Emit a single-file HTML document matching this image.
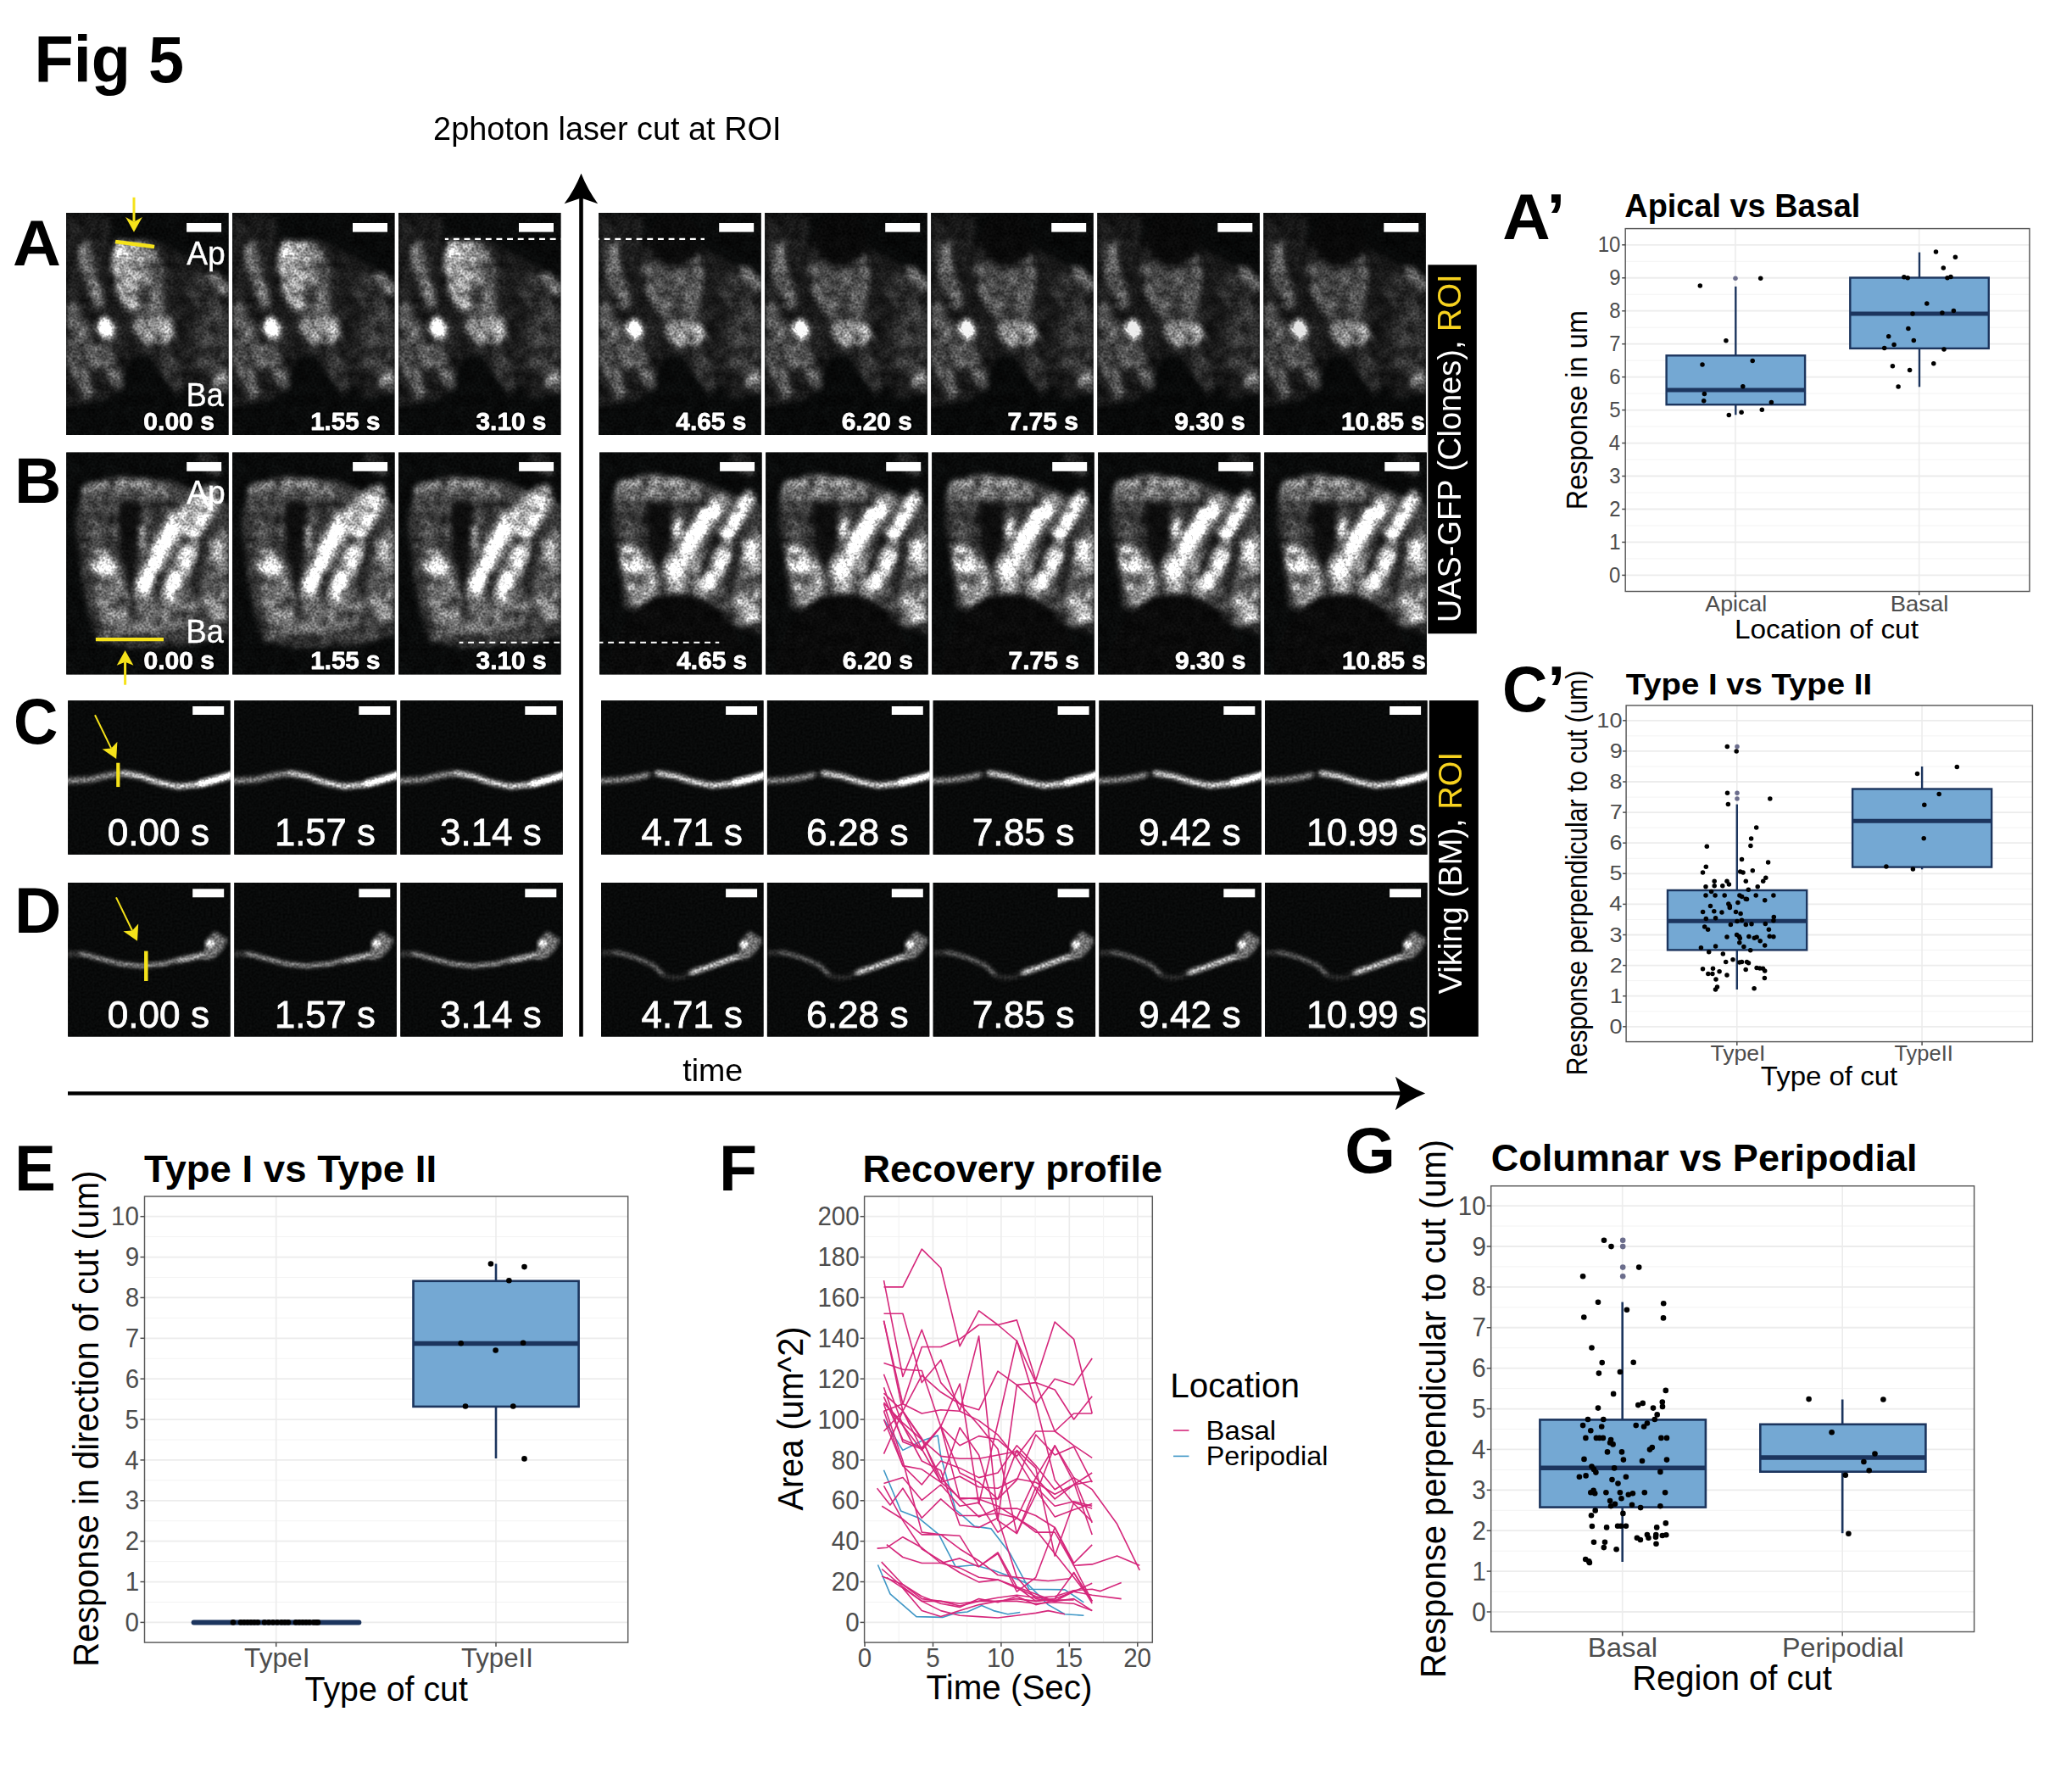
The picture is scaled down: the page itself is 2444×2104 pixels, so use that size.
<!DOCTYPE html>
<html><head><meta charset="utf-8"><title>Fig 5</title>
<style>
html,body{margin:0;padding:0;background:#fff;}
body{width:2444px;height:2104px;overflow:hidden;font-family:"Liberation Sans",sans-serif;}
svg{display:block;position:absolute;left:0;top:0;}
text{font-family:"Liberation Sans",sans-serif;white-space:pre;}
.ov{opacity:0.9999;}
</style></head><body>
<svg width="2444" height="2104" viewBox="0 0 2444 2104">
<defs>
<filter id="fz" x="-5%" y="-5%" width="110%" height="110%" color-interpolation-filters="sRGB">
<feGaussianBlur in="SourceGraphic" stdDeviation="3.1" result="b"/>
<feTurbulence type="fractalNoise" baseFrequency="0.07" numOctaves="2" seed="3" result="c0"/>
<feColorMatrix in="c0" type="matrix" values="1.6 0 0 0 -0.3  1.6 0 0 0 -0.3  1.6 0 0 0 -0.3  0 0 0 0 1" result="c"/>
<feComposite in="b" in2="c" operator="arithmetic" k1="1.0" k2="0.5" k3="0" k4="0" result="b2"/>
<feTurbulence type="fractalNoise" baseFrequency="0.38" numOctaves="1" seed="7" result="n"/>
<feColorMatrix in="n" type="matrix" values="1.5 0 0 0 -0.25  1.5 0 0 0 -0.25  1.5 0 0 0 -0.25  0 0 0 0 1" result="ng"/>
<feComposite in="b2" in2="ng" operator="arithmetic" k1="1.1" k2="0.75" k3="0.03" k4="-0.006"/>
</filter>
<filter id="fl" x="-5%" y="-5%" width="110%" height="110%" color-interpolation-filters="sRGB">
<feGaussianBlur in="SourceGraphic" stdDeviation="1.9" result="b"/>
<feTurbulence type="fractalNoise" baseFrequency="0.38" numOctaves="1" seed="11" result="n"/>
<feColorMatrix in="n" type="matrix" values="1.5 0 0 0 -0.25  1.5 0 0 0 -0.25  1.5 0 0 0 -0.25  0 0 0 0 1" result="ng"/>
<feComposite in="b" in2="ng" operator="arithmetic" k1="1.0" k2="0.8" k3="0.022" k4="-0.004"/>
</filter>
<clipPath id="cA"><rect x="0" y="0" width="191.5" height="262"/></clipPath>
<clipPath id="cC"><rect x="0" y="0" width="191.5" height="181.6"/></clipPath>
<g id="Apre"><rect x="-10" y="-10" width="211.5" height="282" fill="#050606"/><polygon points="0.0,30.4 102.2,31.3 192.0,78.8 192.0,212.9 154.4,218.7 128.3,168.0 79.1,168.0 53.0,217.2 0.0,230.2" fill="#141414"/><polygon points="0.0,1.4 53.0,2.9 50.1,30.4 0.0,31.9" fill="#121212"/><polygon points="0.0,107.2 12.5,105.7 26.9,139.0 42.0,179.6 33.3,188.8 15.3,156.4 0.0,130.3" fill="#464646"/><polygon points="0.0,146.2 9.6,151.2 26.9,191.1 35.6,214.3 24.0,220.7 9.6,194.0 0.0,174.3" fill="#404040"/><polygon points="35.6,156.4 48.7,152.0 61.7,179.6 68.1,205.6 57.3,210.0 45.8,185.3" fill="#3d3d3d"/><ellipse cx="161.6" cy="92.7" rx="18.0" ry="26.1" fill="#202020" transform="rotate(-25 161.6 92.7)"/><polygon points="150.0,139.0 165.9,107.7 192.0,113.5 192.0,191.1 171.7,196.9 154.4,179.6" fill="#282828"/><polygon points="170.3,203.3 183.3,186.5 192.0,183.0 192.0,209.1 177.5,210.8" fill="#5a5a5a"/><polygon points="93.5,154.9 119.6,154.9 142.8,196.9 131.2,215.8 108.0,182.5" fill="#242424"/><polygon points="13.9,36.2 26.9,34.2 35.6,66.6 47.2,110.0 35.6,113.5 21.1,81.1 12.5,52.1" fill="#494949"/><polygon points="165.9,73.0 177.5,70.1 192.0,87.5 192.0,99.0 177.5,90.4" fill="#565656"/><ellipse cx="46.6" cy="137.6" rx="11.6" ry="18.0" fill="#494949" transform="rotate(-15 46.6 137.6)"/><ellipse cx="46.6" cy="136.7" rx="7.0" ry="13.3" fill="#fefefe" transform="rotate(-12 46.6 136.7)"/><polygon points="87.7,34.8 104.5,37.6 115.3,66.6 113.8,92.7 117.3,121.6 87.7,121.6 79.1,115.8 87.7,89.8" fill="#4c4c4c"/><polygon points="57.1,33.6 87.7,34.8 89.2,69.5 85.4,89.8 79.1,115.8 68.1,110.0 58.2,84.0 53.6,63.7" fill="#818181"/><ellipse cx="91.2" cy="96.1" rx="7.8" ry="12.2" fill="#282828"/><polygon points="82.0,125.1 96.4,119.3 122.5,125.1 130.6,139.0 119.6,154.1 93.5,154.1 79.1,139.0" fill="#717171"/></g>
<g id="Apost"><rect x="-10" y="-10" width="211.5" height="282" fill="#050606"/><polygon points="0.0,30.4 102.2,31.3 192.0,78.8 192.0,212.9 154.4,218.7 128.3,168.0 79.1,168.0 53.0,217.2 0.0,230.2" fill="#141414"/><polygon points="0.0,1.4 53.0,2.9 50.1,30.4 0.0,31.9" fill="#121212"/><polygon points="0.0,107.2 12.5,105.7 26.9,139.0 42.0,179.6 33.3,188.8 15.3,156.4 0.0,130.3" fill="#464646"/><polygon points="0.0,146.2 9.6,151.2 26.9,191.1 35.6,214.3 24.0,220.7 9.6,194.0 0.0,174.3" fill="#404040"/><polygon points="35.6,156.4 48.7,152.0 61.7,179.6 68.1,205.6 57.3,210.0 45.8,185.3" fill="#3d3d3d"/><ellipse cx="161.6" cy="92.7" rx="18.0" ry="26.1" fill="#202020" transform="rotate(-25 161.6 92.7)"/><polygon points="150.0,139.0 165.9,107.7 192.0,113.5 192.0,191.1 171.7,196.9 154.4,179.6" fill="#282828"/><polygon points="170.3,203.3 183.3,186.5 192.0,183.0 192.0,209.1 177.5,210.8" fill="#5a5a5a"/><polygon points="93.5,154.9 119.6,154.9 142.8,196.9 131.2,215.8 108.0,182.5" fill="#242424"/><polygon points="9.6,34.8 22.6,33.3 26.1,66.6 37.6,110.0 26.1,113.5 11.6,81.1 5.8,52.1" fill="#4c4c4c"/><polygon points="164.5,64.3 176.1,62.6 192.0,81.1 192.0,93.3 173.2,81.7" fill="#565656"/><ellipse cx="42.3" cy="139.9" rx="11.6" ry="18.0" fill="#494949" transform="rotate(-15 42.3 139.9)"/><ellipse cx="42.3" cy="139.0" rx="7.0" ry="13.3" fill="#fefefe" transform="rotate(-12 42.3 139.0)"/><polygon points="50.1,59.4 68.9,56.5 95.0,65.2 118.2,47.8 124.5,60.8 121.6,89.8 116.7,126.0 80.5,128.0 63.1,110.0 51.5,81.1" fill="#353535"/><polygon points="96.4,68.1 117.6,50.7 123.4,62.3 119.9,89.8 115.3,124.5 105.1,124.5 102.2,95.6" fill="#464646"/><polygon points="51.5,63.7 66.0,62.3 76.2,89.8 80.5,115.8 66.0,110.0 55.9,86.9" fill="#454545"/><ellipse cx="89.2" cy="31.3" rx="31.3" ry="30.7" fill="#060606"/><polygon points="80.5,130.9 95.0,125.1 121.1,130.9 127.4,144.8 115.3,157.0 92.1,157.0 78.5,144.8" fill="#747474"/></g>
<g id="Bpre"><rect x="-10" y="-10" width="211.5" height="282" fill="#050606"/><polygon points="12.0,80.0 20.0,40.0 70.0,28.0 125.0,34.0 191.0,62.0 191.0,215.0 150.0,226.0 80.0,230.0 36.0,222.0 20.0,160.0" fill="#2c2c2c"/><polygon points="155.0,3.0 178.0,3.0 182.0,30.0 163.0,24.0" fill="#1e1e1e"/><polygon points="16.0,56.0 28.0,36.0 66.0,29.0 110.0,35.0 126.0,47.0 116.0,58.0 80.0,55.0 62.0,66.0 64.0,108.0 30.0,114.0 18.0,80.0" fill="#323232"/><polyline points="24.0,44.0 60.0,36.0 100.0,40.0 120.0,48.0" fill="none" stroke="#5c5c5c" stroke-width="11" stroke-linecap="round" stroke-linejoin="round"/><polygon points="66.0,56.0 88.0,62.0 86.0,108.0 80.0,150.0 77.0,190.0 73.0,150.0 62.0,114.0 62.0,70.0" fill="#090909"/><polygon points="28.0,116.0 46.0,116.0 62.0,142.0 78.0,178.0 76.0,212.0 46.0,218.0 36.0,178.0 38.0,150.0" fill="#515151"/><ellipse cx="44" cy="133" rx="13" ry="19" fill="#a5a5a5" transform="rotate(-20 44 133)"/><polygon points="78.0,166.0 120.0,164.0 150.0,172.0 158.0,196.0 120.0,214.0 80.0,214.0" fill="#4c4c4c"/><polyline points="90.0,160.0 128.0,84.0 170.0,50.0" fill="none" stroke="#737373" stroke-width="24" stroke-linecap="round" stroke-linejoin="round"/><polyline points="122.0,166.0 146.0,116.0" fill="none" stroke="#828282" stroke-width="20" stroke-linecap="round" stroke-linejoin="round"/><polyline points="150.0,96.0 174.0,56.0" fill="none" stroke="#737373" stroke-width="18" stroke-linecap="round" stroke-linejoin="round"/><polyline points="92.0,156.0 110.0,116.0 130.0,82.0" fill="none" stroke="#fdfdfd" stroke-width="13" stroke-linecap="round" stroke-linejoin="round"/><polyline points="130.0,82.0 150.0,62.0 168.0,50.0" fill="none" stroke="#999999" stroke-width="9" stroke-linecap="round" stroke-linejoin="round"/><polyline points="114.0,138.0 134.0,100.0 154.0,68.0" fill="none" stroke="#a5a5a5" stroke-width="5" stroke-linecap="round" stroke-linejoin="round"/><polyline points="123.0,163.0 134.0,140.0 145.0,118.0" fill="none" stroke="#fefefe" stroke-width="10" stroke-linecap="round" stroke-linejoin="round"/><polyline points="152.0,93.0 162.0,76.0 173.0,57.0" fill="none" stroke="#c0c0c0" stroke-width="9" stroke-linecap="round" stroke-linejoin="round"/><polyline points="89.0,90.0 92.0,120.0" fill="none" stroke="#929292" stroke-width="6" stroke-linecap="round" stroke-linejoin="round"/><polygon points="168.0,108.0 191.0,92.0 191.0,142.0 172.0,148.0" fill="#6a6a6a"/><polygon points="158.0,160.0 191.0,154.0 191.0,196.0 168.0,200.0" fill="#606060"/><polygon points="158.0,196.0 191.0,196.0 191.0,212.0 164.0,214.0" fill="#353535"/><polyline points="76.0,150.0 78.0,196.0" fill="none" stroke="#070707" stroke-width="3.5" stroke-linecap="round" stroke-linejoin="round"/><polyline points="108.0,150.0 128.0,112.0" fill="none" stroke="#171717" stroke-width="4" stroke-linecap="round" stroke-linejoin="round"/><polyline points="160.0,112.0 150.0,162.0" fill="none" stroke="#131313" stroke-width="6" stroke-linecap="round" stroke-linejoin="round"/></g>
<g id="Bpost"><rect x="-10" y="-10" width="211.5" height="282" fill="#050606"/><polygon points="16.0,80.0 22.0,38.0 64.0,26.0 118.0,34.0 191.0,64.0 191.0,214.0 152.0,202.0 80.0,198.0 30.0,184.0" fill="#2c2c2c"/><polygon points="155.0,3.0 178.0,3.0 182.0,30.0 163.0,24.0" fill="#1e1e1e"/><polygon points="16.0,50.0 62.0,64.0 58.0,112.0 28.0,114.0 18.0,80.0" fill="#2e2e2e"/><polygon points="16.0,52.0 28.0,32.0 66.0,26.0 106.0,32.0 124.0,44.0 114.0,58.0 78.0,54.0 62.0,64.0" fill="#4c4c4c"/><polyline points="24.0,40.0 60.0,33.0 100.0,37.0 118.0,46.0" fill="none" stroke="#646464" stroke-width="9" stroke-linecap="round" stroke-linejoin="round"/><polygon points="54.0,56.0 84.0,62.0 86.0,106.0 78.0,130.0 72.0,146.0 67.0,130.0 56.0,106.0" fill="#090909"/><polygon points="24.0,110.0 46.0,113.0 60.0,128.0 68.0,148.0 68.0,178.0 42.0,180.0 30.0,154.0" fill="#6b6b6b"/><ellipse cx="38" cy="126" rx="12" ry="17" fill="#adadad" transform="rotate(-25 38 126)"/><polygon points="76.0,128.0 92.0,108.0 118.0,114.0 120.0,178.0 74.0,178.0 72.0,154.0" fill="#676767"/><polyline points="84.0,150.0 120.0,86.0 142.0,62.0" fill="none" stroke="#737373" stroke-width="24" stroke-linecap="round" stroke-linejoin="round"/><polyline points="126.0,160.0 146.0,120.0" fill="none" stroke="#828282" stroke-width="20" stroke-linecap="round" stroke-linejoin="round"/><polyline points="148.0,100.0 176.0,54.0" fill="none" stroke="#737373" stroke-width="18" stroke-linecap="round" stroke-linejoin="round"/><polyline points="88.0,142.0 106.0,108.0 124.0,78.0 136.0,66.0" fill="none" stroke="#fdfdfd" stroke-width="14" stroke-linecap="round" stroke-linejoin="round"/><polyline points="128.0,156.0 138.0,136.0 146.0,122.0" fill="none" stroke="#fefefe" stroke-width="11" stroke-linecap="round" stroke-linejoin="round"/><polyline points="152.0,96.0 164.0,74.0 176.0,54.0" fill="none" stroke="#e6e6e6" stroke-width="10" stroke-linecap="round" stroke-linejoin="round"/><ellipse cx="92" cy="92" rx="6" ry="13" fill="#a5a5a5"/><polygon points="168.0,108.0 191.0,96.0 191.0,142.0 170.0,146.0" fill="#929292"/><polygon points="158.0,162.0 191.0,156.0 191.0,200.0 164.0,204.0" fill="#797979"/><polyline points="76.0,148.0 74.0,180.0" fill="none" stroke="#070707" stroke-width="3" stroke-linecap="round" stroke-linejoin="round"/><polyline points="140.0,100.0 120.0,146.0" fill="none" stroke="#0a0a0a" stroke-width="7" stroke-linecap="round" stroke-linejoin="round"/><polyline points="164.0,112.0 152.0,160.0" fill="none" stroke="#131313" stroke-width="6" stroke-linecap="round" stroke-linejoin="round"/><ellipse cx="92" cy="266" rx="82" ry="100" fill="#060606"/></g>
<g id="Cpre"><rect x="-10" y="-10" width="211.5" height="201" fill="#050606"/><polyline points="-4.2,95.0 24.8,93.5 47.9,88.0 65.9,85.7 85.6,89.2 105.8,96.4 129.0,101.4 152.2,99.3 175.4,93.5 192.7,88.6" fill="none" stroke="#454545" stroke-width="8.7" stroke-linecap="round" stroke-linejoin="round" opacity="0.7"/><polyline points="-4.2,95.0 24.8,93.5 47.9,88.0 65.9,85.7" fill="none" stroke="#737373" stroke-width="4.1" stroke-linecap="round" stroke-linejoin="round"/><polyline points="65.9,85.7 85.6,89.2 105.8,96.4 129.0,101.4 152.2,99.3 175.4,93.5 192.7,88.6" fill="none" stroke="#b8b8b8" stroke-width="4.6" stroke-linecap="round" stroke-linejoin="round"/><polyline points="156.5,97.9 175.4,93.0 192.7,88.0" fill="none" stroke="#fefefe" stroke-width="7.0" stroke-linecap="round" stroke-linejoin="round"/></g>
<g id="Cpost"><rect x="-10" y="-10" width="211.5" height="201" fill="#050606"/><polyline points="-4.1,95.0 20.9,93.8 41.1,90.9 55.0,87.5" fill="none" stroke="#454545" stroke-width="8.1" stroke-linecap="round" stroke-linejoin="round" opacity="0.7"/><polyline points="66.0,85.7 87.5,89.2 107.7,95.6 130.9,100.2 154.1,97.9 177.2,92.7 194.6,88.0" fill="none" stroke="#454545" stroke-width="8.7" stroke-linecap="round" stroke-linejoin="round" opacity="0.7"/><polyline points="-4.1,95.0 20.9,93.8 41.1,90.9 54.4,87.7" fill="none" stroke="#737373" stroke-width="4.1" stroke-linecap="round" stroke-linejoin="round"/><polyline points="66.6,85.7 87.5,89.2 107.7,95.6 130.9,100.2 154.1,97.9 177.2,92.7 194.6,88.0" fill="none" stroke="#b8b8b8" stroke-width="4.6" stroke-linecap="round" stroke-linejoin="round"/><polyline points="158.4,96.4 177.2,92.1 194.6,87.5" fill="none" stroke="#fefefe" stroke-width="7.0" stroke-linecap="round" stroke-linejoin="round"/></g>
<g id="Dpre"><rect x="-10" y="-10" width="211.5" height="201" fill="#050606"/><polyline points="1.6,84.3 19.0,83.7 39.2,90.1 62.4,95.9 85.6,98.2 111.6,95.9 134.8,90.1 155.1,85.7 167.2,82.2" fill="none" stroke="#393939" stroke-width="6.4" stroke-linecap="round" stroke-linejoin="round" opacity="0.7"/><polyline points="14.6,83.7 39.2,90.1 62.4,95.9 85.6,98.2 111.6,95.9 134.8,90.1 155.1,85.7 167.2,82.2" fill="none" stroke="#9d9d9d" stroke-width="2.6" stroke-linecap="round" stroke-linejoin="round"/><polyline points="131.9,91.5 152.2,87.2 166.7,83.4" fill="none" stroke="#929292" stroke-width="5.5" stroke-linecap="round" stroke-linejoin="round"/><polygon points="163.2,68.9 173.0,57.3 188.4,67.2 181.7,79.9 171.9,89.2 159.4,91.5" fill="#585858"/><ellipse cx="167.2" cy="71.2" rx="4.3" ry="3.8" fill="#e6e6e6"/></g>
<g id="Dpost"><rect x="-10" y="-10" width="211.5" height="201" fill="#050606"/><polyline points="3.5,82.8 20.9,82.2 41.1,88.6 61.4,97.3 73.6,108.9" fill="none" stroke="#353535" stroke-width="5.8" stroke-linecap="round" stroke-linejoin="round" opacity="0.7"/><polyline points="15.1,82.2 41.1,88.6 61.4,97.3 73.0,108.3" fill="none" stroke="#6b6b6b" stroke-width="2.3" stroke-linecap="round" stroke-linejoin="round"/><polyline points="73.6,109.5 84.6,112.4 96.1,111.2 106.3,106.6" fill="none" stroke="#262626" stroke-width="4.1" stroke-linecap="round" stroke-linejoin="round"/><polyline points="106.3,106.0 128.0,98.8 148.3,91.5 165.7,85.7 172.0,79.9" fill="none" stroke="#454545" stroke-width="7.0" stroke-linecap="round" stroke-linejoin="round" opacity="0.7"/><polyline points="107.2,106.0 128.0,98.8 148.3,91.5 165.7,85.7 172.0,79.9" fill="none" stroke="#b8b8b8" stroke-width="4.6" stroke-linecap="round" stroke-linejoin="round"/><polygon points="165.1,68.9 174.9,57.3 190.3,67.2 183.6,79.9 173.8,89.2 161.3,91.5" fill="#585858"/><ellipse cx="168.0" cy="72.7" rx="4.3" ry="3.8" fill="#e6e6e6"/></g>
</defs>
<g transform="translate(78.1,251)" clip-path="url(#cA)"><rect x="0" y="0" width="191.5" height="262" fill="#050606"/><use href="#Apre" filter="url(#fz)"/></g>
<g transform="translate(274,251)" clip-path="url(#cA)"><rect x="0" y="0" width="191.5" height="262" fill="#050606"/><use href="#Apre" filter="url(#fz)"/></g>
<g transform="translate(470,251)" clip-path="url(#cA)"><rect x="0" y="0" width="191.5" height="262" fill="#050606"/><use href="#Apre" filter="url(#fz)"/></g>
<g transform="translate(706.2,251)" clip-path="url(#cA)"><rect x="0" y="0" width="191.5" height="262" fill="#050606"/><use href="#Apost" filter="url(#fz)"/></g>
<g transform="translate(902.2,251)" clip-path="url(#cA)"><rect x="0" y="0" width="191.5" height="262" fill="#050606"/><use href="#Apost" filter="url(#fz)" opacity="0.98"/></g>
<g transform="translate(1098.2,251)" clip-path="url(#cA)"><rect x="0" y="0" width="191.5" height="262" fill="#050606"/><use href="#Apost" filter="url(#fz)" opacity="0.96"/></g>
<g transform="translate(1294.3,251)" clip-path="url(#cA)"><rect x="0" y="0" width="191.5" height="262" fill="#050606"/><use href="#Apost" filter="url(#fz)" opacity="0.93"/></g>
<g transform="translate(1490.3,251)" clip-path="url(#cA)"><rect x="0" y="0" width="191.5" height="262" fill="#050606"/><use href="#Apost" filter="url(#fz)" opacity="0.9"/></g>
<g transform="translate(78.2,533.5)" clip-path="url(#cA)"><rect x="0" y="0" width="191.5" height="262" fill="#050606"/><use href="#Bpre" filter="url(#fz)"/></g>
<g transform="translate(274.1,533.5)" clip-path="url(#cA)"><rect x="0" y="0" width="191.5" height="262" fill="#050606"/><use href="#Bpre" filter="url(#fz)"/></g>
<g transform="translate(470.1,533.5)" clip-path="url(#cA)"><rect x="0" y="0" width="191.5" height="262" fill="#050606"/><use href="#Bpre" filter="url(#fz)"/></g>
<g transform="translate(707.1,533.5)" clip-path="url(#cA)"><rect x="0" y="0" width="191.5" height="262" fill="#050606"/><use href="#Bpost" filter="url(#fz)"/></g>
<g transform="translate(903.2,533.5)" clip-path="url(#cA)"><rect x="0" y="0" width="191.5" height="262" fill="#050606"/><use href="#Bpost" filter="url(#fz)"/></g>
<g transform="translate(1099.2,533.5)" clip-path="url(#cA)"><rect x="0" y="0" width="191.5" height="262" fill="#050606"/><use href="#Bpost" filter="url(#fz)"/></g>
<g transform="translate(1295.2,533.5)" clip-path="url(#cA)"><rect x="0" y="0" width="191.5" height="262" fill="#050606"/><use href="#Bpost" filter="url(#fz)"/></g>
<g transform="translate(1491.3,533.5)" clip-path="url(#cA)"><rect x="0" y="0" width="191.5" height="262" fill="#050606"/><use href="#Bpost" filter="url(#fz)"/></g>
<g transform="translate(80.15,826.2)" clip-path="url(#cC)"><rect x="0" y="0" width="191.5" height="262" fill="#050606"/><use href="#Cpre" filter="url(#fl)"/></g>
<g transform="translate(276.3,826.2)" clip-path="url(#cC)"><rect x="0" y="0" width="191.5" height="262" fill="#050606"/><use href="#Cpre" filter="url(#fl)"/></g>
<g transform="translate(472.3,826.2)" clip-path="url(#cC)"><rect x="0" y="0" width="191.5" height="262" fill="#050606"/><use href="#Cpre" filter="url(#fl)"/></g>
<g transform="translate(709.1,826.2)" clip-path="url(#cC)"><rect x="0" y="0" width="191.5" height="262" fill="#050606"/><use href="#Cpost" filter="url(#fl)"/></g>
<g transform="translate(904.85,826.2)" clip-path="url(#cC)"><rect x="0" y="0" width="191.5" height="262" fill="#050606"/><use href="#Cpost" filter="url(#fl)"/></g>
<g transform="translate(1100.6,826.2)" clip-path="url(#cC)"><rect x="0" y="0" width="191.5" height="262" fill="#050606"/><use href="#Cpost" filter="url(#fl)"/></g>
<g transform="translate(1296.35,826.2)" clip-path="url(#cC)"><rect x="0" y="0" width="191.5" height="262" fill="#050606"/><use href="#Cpost" filter="url(#fl)"/></g>
<g transform="translate(1492.1,826.2)" clip-path="url(#cC)"><rect x="0" y="0" width="191.5" height="262" fill="#050606"/><use href="#Cpost" filter="url(#fl)"/></g>
<g transform="translate(80.15,1041)" clip-path="url(#cC)"><rect x="0" y="0" width="191.5" height="262" fill="#050606"/><use href="#Dpre" filter="url(#fl)"/></g>
<g transform="translate(276.3,1041)" clip-path="url(#cC)"><rect x="0" y="0" width="191.5" height="262" fill="#050606"/><use href="#Dpre" filter="url(#fl)"/></g>
<g transform="translate(472.3,1041)" clip-path="url(#cC)"><rect x="0" y="0" width="191.5" height="262" fill="#050606"/><use href="#Dpre" filter="url(#fl)"/></g>
<g transform="translate(709.1,1041)" clip-path="url(#cC)"><rect x="0" y="0" width="191.5" height="262" fill="#050606"/><use href="#Dpost" filter="url(#fl)"/></g>
<g transform="translate(904.85,1041)" clip-path="url(#cC)"><rect x="0" y="0" width="191.5" height="262" fill="#050606"/><use href="#Dpost" filter="url(#fl)"/></g>
<g transform="translate(1100.6,1041)" clip-path="url(#cC)"><rect x="0" y="0" width="191.5" height="262" fill="#050606"/><use href="#Dpost" filter="url(#fl)"/></g>
<g transform="translate(1296.35,1041)" clip-path="url(#cC)"><rect x="0" y="0" width="191.5" height="262" fill="#050606"/><use href="#Dpost" filter="url(#fl)"/></g>
<g transform="translate(1492.1,1041)" clip-path="url(#cC)"><rect x="0" y="0" width="191.5" height="262" fill="#050606"/><use href="#Dpost" filter="url(#fl)"/></g>
<g class="ov" opacity="0.9999">
<text x="40.61" y="97.00" font-size="78.0" font-weight="bold" fill="#000" textLength="176.47" lengthAdjust="spacingAndGlyphs" >Fig 5</text>
<text x="511.11" y="165.00" font-size="38.27" fill="#000" textLength="410.35" lengthAdjust="spacingAndGlyphs" >2photon laser cut at ROI</text>
<text x="15.11" y="312.50" font-size="76.6" font-weight="bold" fill="#000" textLength="56.96" lengthAdjust="spacingAndGlyphs" >A</text>
<text x="16.94" y="593.00" font-size="76.6" font-weight="bold" fill="#000" textLength="55.32" lengthAdjust="spacingAndGlyphs" >B</text>
<text x="16.02" y="877.00" font-size="76.6" font-weight="bold" fill="#000" textLength="52.45" lengthAdjust="spacingAndGlyphs" >C</text>
<text x="16.94" y="1099.70" font-size="76.6" font-weight="bold" fill="#000" textLength="55.32" lengthAdjust="spacingAndGlyphs" >D</text>
<text x="17.20" y="1404.40" font-size="76.6" font-weight="bold" fill="#000" textLength="48.54" lengthAdjust="spacingAndGlyphs" >E</text>
<text x="848.16" y="1404.40" font-size="76.6" font-weight="bold" fill="#000" textLength="44.76" lengthAdjust="spacingAndGlyphs" >F</text>
<text x="1586.15" y="1382.50" font-size="76.6" font-weight="bold" fill="#000" textLength="59.69" lengthAdjust="spacingAndGlyphs" >G</text>
<text x="1772.33" y="281.70" font-size="76.6" font-weight="bold" fill="#000" textLength="73.77" lengthAdjust="spacingAndGlyphs" >A’</text>
<text x="1772.06" y="838.60" font-size="76.6" font-weight="bold" fill="#000" textLength="74.07" lengthAdjust="spacingAndGlyphs" >C’</text>
<rect x="683.2" y="225" width="4.6" height="997.6" fill="#000"/>
<path d="M685.5 204.5 Q693 223.5 705.2 240.2 L685.5 233.4 L665.6 240.2 Q678 223.5 685.5 204.5 Z" fill="#000"/>
<rect x="80" y="1287.3" width="1576" height="4.4" fill="#000"/>
<path d="M1681.2 1289.5 Q1662.5 1282 1645.9 1269.8 L1652.1 1289.5 L1645.9 1309.2 Q1662.5 1297 1681.2 1289.5 Z" fill="#000"/>
<text x="805.24" y="1274.80" font-size="37.44" fill="#000" textLength="71.02" lengthAdjust="spacingAndGlyphs" >time</text>
<rect x="1684.3" y="312.3" width="57.5" height="435" fill="#000"/>
<rect x="1685.8" y="826.1" width="58" height="396.5" fill="#000"/>
<g transform="translate(1723.3,731.4) rotate(-90)"><text x="-2.92" y="0" font-size="38.480000000000004" fill="#fff" textLength="343.30" lengthAdjust="spacingAndGlyphs">UAS-GFP (Clones), </text><text x="340.37" y="0" font-size="38.480000000000004" fill="#f7d21f" textLength="67.52" lengthAdjust="spacingAndGlyphs">ROI</text></g>
<g transform="translate(1724.4,1172.3) rotate(-90)"><text x="-0.15" y="0" font-size="38.480000000000004" fill="#fff" textLength="217.64" lengthAdjust="spacingAndGlyphs">Viking (BM), </text><text x="217.49" y="0" font-size="38.480000000000004" fill="#f7d21f" textLength="67.82" lengthAdjust="spacingAndGlyphs">ROI</text></g>
<rect x="220.1" y="263" width="41" height="10.6" fill="#fff"/>
<rect x="416.0" y="263" width="41" height="10.6" fill="#fff"/>
<rect x="612.0" y="263" width="41" height="10.6" fill="#fff"/>
<rect x="848.2" y="263" width="41" height="10.6" fill="#fff"/>
<rect x="1044.2" y="263" width="41" height="10.6" fill="#fff"/>
<rect x="1240.2" y="263" width="41" height="10.6" fill="#fff"/>
<rect x="1436.3" y="263" width="41" height="10.6" fill="#fff"/>
<rect x="1632.3" y="263" width="41" height="10.6" fill="#fff"/>
<rect x="220.2" y="545" width="41" height="10.7" fill="#fff"/>
<rect x="416.1" y="545" width="41" height="10.7" fill="#fff"/>
<rect x="612.1" y="545" width="41" height="10.7" fill="#fff"/>
<rect x="849.1" y="545" width="41" height="10.7" fill="#fff"/>
<rect x="1045.2" y="545" width="41" height="10.7" fill="#fff"/>
<rect x="1241.2" y="545" width="41" height="10.7" fill="#fff"/>
<rect x="1437.2" y="545" width="41" height="10.7" fill="#fff"/>
<rect x="1633.3" y="545" width="41" height="10.7" fill="#fff"/>
<rect x="227.2" y="833" width="37" height="10" fill="#fff"/>
<rect x="423.3" y="833" width="37" height="10" fill="#fff"/>
<rect x="619.3" y="833" width="37" height="10" fill="#fff"/>
<rect x="856.1" y="833" width="37" height="10" fill="#fff"/>
<rect x="1051.8" y="833" width="37" height="10" fill="#fff"/>
<rect x="1247.6" y="833" width="37" height="10" fill="#fff"/>
<rect x="1443.3" y="833" width="37" height="10" fill="#fff"/>
<rect x="1639.1" y="833" width="37" height="10" fill="#fff"/>
<rect x="227.2" y="1048.3" width="37" height="10" fill="#fff"/>
<rect x="423.3" y="1048.3" width="37" height="10" fill="#fff"/>
<rect x="619.3" y="1048.3" width="37" height="10" fill="#fff"/>
<rect x="856.1" y="1048.3" width="37" height="10" fill="#fff"/>
<rect x="1051.8" y="1048.3" width="37" height="10" fill="#fff"/>
<rect x="1247.6" y="1048.3" width="37" height="10" fill="#fff"/>
<rect x="1443.3" y="1048.3" width="37" height="10" fill="#fff"/>
<rect x="1639.1" y="1048.3" width="37" height="10" fill="#fff"/>
<text x="168.92" y="506.50" font-size="28.6" font-weight="bold" fill="#000" textLength="84.41" lengthAdjust="spacingAndGlyphs" stroke="#000" stroke-width="4.5" stroke-linejoin="round" opacity="0.5">0.00 s</text>
<text x="169.33" y="506.50" font-size="28.6" font-weight="bold" fill="#fff" textLength="83.58" lengthAdjust="spacingAndGlyphs" stroke="#fff" stroke-width="0.8" stroke-linejoin="round">0.00 s</text>
<text x="365.75" y="506.50" font-size="28.6" font-weight="bold" fill="#000" textLength="83.06" lengthAdjust="spacingAndGlyphs" stroke="#000" stroke-width="4.5" stroke-linejoin="round" opacity="0.5">1.55 s</text>
<text x="366.17" y="506.50" font-size="28.6" font-weight="bold" fill="#fff" textLength="82.22" lengthAdjust="spacingAndGlyphs" stroke="#fff" stroke-width="0.8" stroke-linejoin="round">1.55 s</text>
<text x="561.14" y="506.50" font-size="28.6" font-weight="bold" fill="#000" textLength="83.67" lengthAdjust="spacingAndGlyphs" stroke="#000" stroke-width="4.5" stroke-linejoin="round" opacity="0.5">3.10 s</text>
<text x="561.54" y="506.50" font-size="28.6" font-weight="bold" fill="#fff" textLength="82.86" lengthAdjust="spacingAndGlyphs" stroke="#fff" stroke-width="0.8" stroke-linejoin="round">3.10 s</text>
<text x="796.95" y="506.50" font-size="28.6" font-weight="bold" fill="#000" textLength="83.77" lengthAdjust="spacingAndGlyphs" stroke="#000" stroke-width="4.5" stroke-linejoin="round" opacity="0.5">4.65 s</text>
<text x="797.35" y="506.50" font-size="28.6" font-weight="bold" fill="#fff" textLength="82.95" lengthAdjust="spacingAndGlyphs" stroke="#fff" stroke-width="0.8" stroke-linejoin="round">4.65 s</text>
<text x="992.31" y="506.50" font-size="28.6" font-weight="bold" fill="#000" textLength="84.00" lengthAdjust="spacingAndGlyphs" stroke="#000" stroke-width="4.5" stroke-linejoin="round" opacity="0.5">6.20 s</text>
<text x="992.72" y="506.50" font-size="28.6" font-weight="bold" fill="#fff" textLength="83.18" lengthAdjust="spacingAndGlyphs" stroke="#fff" stroke-width="0.8" stroke-linejoin="round">6.20 s</text>
<text x="1188.13" y="506.50" font-size="28.6" font-weight="bold" fill="#000" textLength="84.29" lengthAdjust="spacingAndGlyphs" stroke="#000" stroke-width="4.5" stroke-linejoin="round" opacity="0.5">7.75 s</text>
<text x="1188.54" y="506.50" font-size="28.6" font-weight="bold" fill="#fff" textLength="83.47" lengthAdjust="spacingAndGlyphs" stroke="#fff" stroke-width="0.8" stroke-linejoin="round">7.75 s</text>
<text x="1384.77" y="506.50" font-size="28.6" font-weight="bold" fill="#000" textLength="84.25" lengthAdjust="spacingAndGlyphs" stroke="#000" stroke-width="4.5" stroke-linejoin="round" opacity="0.5">9.30 s</text>
<text x="1385.18" y="506.50" font-size="28.6" font-weight="bold" fill="#fff" textLength="83.43" lengthAdjust="spacingAndGlyphs" stroke="#fff" stroke-width="0.8" stroke-linejoin="round">9.30 s</text>
<text x="1581.55" y="506.50" font-size="28.6" font-weight="bold" fill="#000" textLength="99.66" lengthAdjust="spacingAndGlyphs" stroke="#000" stroke-width="4.5" stroke-linejoin="round" opacity="0.5">10.85 s</text>
<text x="1581.96" y="506.50" font-size="28.6" font-weight="bold" fill="#fff" textLength="98.83" lengthAdjust="spacingAndGlyphs" stroke="#fff" stroke-width="0.8" stroke-linejoin="round">10.85 s</text>
<text x="169.02" y="788.80" font-size="28.6" font-weight="bold" fill="#000" textLength="84.41" lengthAdjust="spacingAndGlyphs" stroke="#000" stroke-width="4.5" stroke-linejoin="round" opacity="0.5">0.00 s</text>
<text x="169.43" y="788.80" font-size="28.6" font-weight="bold" fill="#fff" textLength="83.58" lengthAdjust="spacingAndGlyphs" stroke="#fff" stroke-width="0.8" stroke-linejoin="round">0.00 s</text>
<text x="365.85" y="788.80" font-size="28.6" font-weight="bold" fill="#000" textLength="83.06" lengthAdjust="spacingAndGlyphs" stroke="#000" stroke-width="4.5" stroke-linejoin="round" opacity="0.5">1.55 s</text>
<text x="366.27" y="788.80" font-size="28.6" font-weight="bold" fill="#fff" textLength="82.22" lengthAdjust="spacingAndGlyphs" stroke="#fff" stroke-width="0.8" stroke-linejoin="round">1.55 s</text>
<text x="561.24" y="788.80" font-size="28.6" font-weight="bold" fill="#000" textLength="83.67" lengthAdjust="spacingAndGlyphs" stroke="#000" stroke-width="4.5" stroke-linejoin="round" opacity="0.5">3.10 s</text>
<text x="561.64" y="788.80" font-size="28.6" font-weight="bold" fill="#fff" textLength="82.86" lengthAdjust="spacingAndGlyphs" stroke="#fff" stroke-width="0.8" stroke-linejoin="round">3.10 s</text>
<text x="797.85" y="788.80" font-size="28.6" font-weight="bold" fill="#000" textLength="83.77" lengthAdjust="spacingAndGlyphs" stroke="#000" stroke-width="4.5" stroke-linejoin="round" opacity="0.5">4.65 s</text>
<text x="798.25" y="788.80" font-size="28.6" font-weight="bold" fill="#fff" textLength="82.95" lengthAdjust="spacingAndGlyphs" stroke="#fff" stroke-width="0.8" stroke-linejoin="round">4.65 s</text>
<text x="993.31" y="788.80" font-size="28.6" font-weight="bold" fill="#000" textLength="84.00" lengthAdjust="spacingAndGlyphs" stroke="#000" stroke-width="4.5" stroke-linejoin="round" opacity="0.5">6.20 s</text>
<text x="993.72" y="788.80" font-size="28.6" font-weight="bold" fill="#fff" textLength="83.18" lengthAdjust="spacingAndGlyphs" stroke="#fff" stroke-width="0.8" stroke-linejoin="round">6.20 s</text>
<text x="1189.13" y="788.80" font-size="28.6" font-weight="bold" fill="#000" textLength="84.29" lengthAdjust="spacingAndGlyphs" stroke="#000" stroke-width="4.5" stroke-linejoin="round" opacity="0.5">7.75 s</text>
<text x="1189.54" y="788.80" font-size="28.6" font-weight="bold" fill="#fff" textLength="83.47" lengthAdjust="spacingAndGlyphs" stroke="#fff" stroke-width="0.8" stroke-linejoin="round">7.75 s</text>
<text x="1385.67" y="788.80" font-size="28.6" font-weight="bold" fill="#000" textLength="84.25" lengthAdjust="spacingAndGlyphs" stroke="#000" stroke-width="4.5" stroke-linejoin="round" opacity="0.5">9.30 s</text>
<text x="1386.08" y="788.80" font-size="28.6" font-weight="bold" fill="#fff" textLength="83.43" lengthAdjust="spacingAndGlyphs" stroke="#fff" stroke-width="0.8" stroke-linejoin="round">9.30 s</text>
<text x="1582.55" y="788.80" font-size="28.6" font-weight="bold" fill="#000" textLength="99.66" lengthAdjust="spacingAndGlyphs" stroke="#000" stroke-width="4.5" stroke-linejoin="round" opacity="0.5">10.85 s</text>
<text x="1582.96" y="788.80" font-size="28.6" font-weight="bold" fill="#fff" textLength="98.83" lengthAdjust="spacingAndGlyphs" stroke="#fff" stroke-width="0.8" stroke-linejoin="round">10.85 s</text>
<text x="126.83" y="996.60" font-size="43.68" fill="#fff" textLength="120.11" lengthAdjust="spacingAndGlyphs" stroke="#fff" stroke-width="0.8">0.00 s</text>
<text x="323.99" y="996.60" font-size="43.68" fill="#fff" textLength="118.69" lengthAdjust="spacingAndGlyphs" stroke="#fff" stroke-width="0.8">1.57 s</text>
<text x="519.03" y="996.60" font-size="43.68" fill="#fff" textLength="119.66" lengthAdjust="spacingAndGlyphs" stroke="#fff" stroke-width="0.8">3.14 s</text>
<text x="756.54" y="996.60" font-size="43.68" fill="#fff" textLength="119.35" lengthAdjust="spacingAndGlyphs" stroke="#fff" stroke-width="0.8">4.71 s</text>
<text x="951.04" y="996.60" font-size="43.68" fill="#fff" textLength="120.61" lengthAdjust="spacingAndGlyphs" stroke="#fff" stroke-width="0.8">6.28 s</text>
<text x="1146.74" y="996.60" font-size="43.68" fill="#fff" textLength="120.66" lengthAdjust="spacingAndGlyphs" stroke="#fff" stroke-width="0.8">7.85 s</text>
<text x="1343.01" y="996.60" font-size="43.68" fill="#fff" textLength="120.53" lengthAdjust="spacingAndGlyphs" stroke="#fff" stroke-width="0.8">9.42 s</text>
<text x="1541.01" y="996.60" font-size="43.68" fill="#fff" textLength="142.17" lengthAdjust="spacingAndGlyphs" stroke="#fff" stroke-width="0.8">10.99 s</text>
<text x="126.83" y="1211.80" font-size="43.68" fill="#fff" textLength="120.11" lengthAdjust="spacingAndGlyphs" stroke="#fff" stroke-width="0.8">0.00 s</text>
<text x="323.99" y="1211.80" font-size="43.68" fill="#fff" textLength="118.69" lengthAdjust="spacingAndGlyphs" stroke="#fff" stroke-width="0.8">1.57 s</text>
<text x="519.03" y="1211.80" font-size="43.68" fill="#fff" textLength="119.66" lengthAdjust="spacingAndGlyphs" stroke="#fff" stroke-width="0.8">3.14 s</text>
<text x="756.54" y="1211.80" font-size="43.68" fill="#fff" textLength="119.35" lengthAdjust="spacingAndGlyphs" stroke="#fff" stroke-width="0.8">4.71 s</text>
<text x="951.04" y="1211.80" font-size="43.68" fill="#fff" textLength="120.61" lengthAdjust="spacingAndGlyphs" stroke="#fff" stroke-width="0.8">6.28 s</text>
<text x="1146.74" y="1211.80" font-size="43.68" fill="#fff" textLength="120.66" lengthAdjust="spacingAndGlyphs" stroke="#fff" stroke-width="0.8">7.85 s</text>
<text x="1343.01" y="1211.80" font-size="43.68" fill="#fff" textLength="120.53" lengthAdjust="spacingAndGlyphs" stroke="#fff" stroke-width="0.8">9.42 s</text>
<text x="1541.01" y="1211.80" font-size="43.68" fill="#fff" textLength="142.17" lengthAdjust="spacingAndGlyphs" stroke="#fff" stroke-width="0.8">10.99 s</text>
<text x="220.23" y="311.90" font-size="37.96" fill="#fff" textLength="45.51" lengthAdjust="spacingAndGlyphs" stroke="#fff" stroke-width="0.4">Ap</text>
<text x="219.86" y="478.50" font-size="37.96" fill="#fff" textLength="43.91" lengthAdjust="spacingAndGlyphs" stroke="#fff" stroke-width="0.4">Ba</text>
<text x="220.23" y="593.80" font-size="37.96" fill="#fff" textLength="45.51" lengthAdjust="spacingAndGlyphs" stroke="#fff" stroke-width="0.4">Ap</text>
<text x="219.53" y="757.80" font-size="37.96" fill="#fff" textLength="44.23" lengthAdjust="spacingAndGlyphs" stroke="#fff" stroke-width="0.4">Ba</text>
<line x1="158.0" y1="232.8" x2="158.0" y2="261.4" stroke="#f5e21a" stroke-width="3"/>
<path d="M158.0 273.7 L148.1 256.1 L158.0 261.4 L167.9 256.1 Z" fill="#f5e21a"/>
<line x1="136.1" y1="285" x2="182.1" y2="291" stroke="#f5e21a" stroke-width="4.6"/>
<line x1="147.6" y1="807.7" x2="147.6" y2="780.8" stroke="#f5e21a" stroke-width="3"/>
<path d="M147.6 766.9 L157.5 784.7 L147.6 780.8 L137.7 784.7 Z" fill="#f5e21a"/>
<line x1="112.9" y1="754.1" x2="193" y2="754.1" stroke="#f5e21a" stroke-width="4.3"/>
<line x1="112.0" y1="843.3" x2="131.2" y2="882.6" stroke="#f5e21a" stroke-width="2"/>
<path d="M137.2 894.9 L120.6 883.4 L131.2 882.6 L138.4 874.7 Z" fill="#f5e21a"/>
<line x1="139.3" y1="899.7" x2="139.3" y2="928.1" stroke="#f5e21a" stroke-width="4.2"/>
<line x1="137.0" y1="1058.4" x2="156.0" y2="1097.5" stroke="#f5e21a" stroke-width="2"/>
<path d="M162.0 1109.8 L145.4 1098.3 L156.0 1097.5 L163.2 1089.6 Z" fill="#f5e21a"/>
<line x1="172.3" y1="1121.6" x2="172.3" y2="1157" stroke="#f5e21a" stroke-width="4.5"/>
<line x1="524.8" y1="281.9" x2="661.7" y2="281.9" stroke="#fff" stroke-width="2.1" stroke-dasharray="6.9 5.75" stroke-dashoffset="2.6"/>
<line x1="706.2" y1="281.9" x2="831" y2="281.9" stroke="#fff" stroke-width="2.1" stroke-dasharray="6.9 5.75" stroke-dashoffset="6.15"/>
<line x1="541.6" y1="757.7" x2="661.9" y2="757.7" stroke="#fff" stroke-width="2.1" stroke-dasharray="6.9 5.75" stroke-dashoffset="2.15"/>
<line x1="707.1" y1="757.7" x2="848.3" y2="757.7" stroke="#fff" stroke-width="2.1" stroke-dasharray="6.9 5.75" stroke-dashoffset="2.55"/>
</g>
<rect x="1917.2" y="269.6" width="476.70000000000005" height="427.9" fill="#fff"/>
<line x1="1917.2" x2="2393.9" y1="658.92" y2="658.92" stroke="#f3f3f3" stroke-width="1.0"/>
<line x1="1917.2" x2="2393.9" y1="619.96" y2="619.96" stroke="#f3f3f3" stroke-width="1.0"/>
<line x1="1917.2" x2="2393.9" y1="581.00" y2="581.00" stroke="#f3f3f3" stroke-width="1.0"/>
<line x1="1917.2" x2="2393.9" y1="542.04" y2="542.04" stroke="#f3f3f3" stroke-width="1.0"/>
<line x1="1917.2" x2="2393.9" y1="503.08" y2="503.08" stroke="#f3f3f3" stroke-width="1.0"/>
<line x1="1917.2" x2="2393.9" y1="464.12" y2="464.12" stroke="#f3f3f3" stroke-width="1.0"/>
<line x1="1917.2" x2="2393.9" y1="425.16" y2="425.16" stroke="#f3f3f3" stroke-width="1.0"/>
<line x1="1917.2" x2="2393.9" y1="386.20" y2="386.20" stroke="#f3f3f3" stroke-width="1.0"/>
<line x1="1917.2" x2="2393.9" y1="347.24" y2="347.24" stroke="#f3f3f3" stroke-width="1.0"/>
<line x1="1917.2" x2="2393.9" y1="308.28" y2="308.28" stroke="#f3f3f3" stroke-width="1.0"/>
<line x1="1917.2" x2="2393.9" y1="678.40" y2="678.40" stroke="#ececec" stroke-width="1.8"/>
<line x1="1917.2" x2="2393.9" y1="639.44" y2="639.44" stroke="#ececec" stroke-width="1.8"/>
<line x1="1917.2" x2="2393.9" y1="600.48" y2="600.48" stroke="#ececec" stroke-width="1.8"/>
<line x1="1917.2" x2="2393.9" y1="561.52" y2="561.52" stroke="#ececec" stroke-width="1.8"/>
<line x1="1917.2" x2="2393.9" y1="522.56" y2="522.56" stroke="#ececec" stroke-width="1.8"/>
<line x1="1917.2" x2="2393.9" y1="483.60" y2="483.60" stroke="#ececec" stroke-width="1.8"/>
<line x1="1917.2" x2="2393.9" y1="444.64" y2="444.64" stroke="#ececec" stroke-width="1.8"/>
<line x1="1917.2" x2="2393.9" y1="405.68" y2="405.68" stroke="#ececec" stroke-width="1.8"/>
<line x1="1917.2" x2="2393.9" y1="366.72" y2="366.72" stroke="#ececec" stroke-width="1.8"/>
<line x1="1917.2" x2="2393.9" y1="327.76" y2="327.76" stroke="#ececec" stroke-width="1.8"/>
<line x1="1917.2" x2="2393.9" y1="288.80" y2="288.80" stroke="#ececec" stroke-width="1.8"/>
<line y1="269.6" y2="697.5" x1="2047.00" x2="2047.00" stroke="#ececec" stroke-width="1.6"/>
<line y1="269.6" y2="697.5" x1="2263.70" x2="2263.70" stroke="#ececec" stroke-width="1.6"/>
<line x1="2047.3" x2="2047.3" y1="337.9" y2="419.3" stroke="#1c355e" stroke-width="2.4"/>
<line x1="2047.3" x2="2047.3" y1="477.2" y2="489.3" stroke="#1c355e" stroke-width="2.4"/>
<rect x="1965.6" y="419.3" width="163.5" height="57.9" fill="#74a8d3" stroke="#1c355e" stroke-width="2.4"/>
<line x1="1965.6" x2="2129.1" y1="460.0" y2="460.0" stroke="#1c355e" stroke-width="5"/>
<line x1="2264.0" x2="2264.0" y1="297.6" y2="327.5" stroke="#1c355e" stroke-width="2.4"/>
<line x1="2264.0" x2="2264.0" y1="410.9" y2="456.3" stroke="#1c355e" stroke-width="2.4"/>
<rect x="2182.3" y="327.5" width="163.5" height="83.4" fill="#74a8d3" stroke="#1c355e" stroke-width="2.4"/>
<line x1="2182.3" x2="2345.8" y1="369.9" y2="369.9" stroke="#1c355e" stroke-width="5"/>
<circle cx="2005.3" cy="336.9" r="2.75" fill="#000"/><circle cx="2047.0" cy="328.2" r="2.75" fill="#6b6d8c"/><circle cx="2076.7" cy="328.2" r="2.75" fill="#000"/><circle cx="2035.9" cy="401.8" r="2.75" fill="#000"/><circle cx="2008.0" cy="430.1" r="2.75" fill="#000"/><circle cx="2067.2" cy="425.4" r="2.75" fill="#000"/><circle cx="2055.8" cy="455.7" r="2.75" fill="#000"/><circle cx="2010.4" cy="464.4" r="2.75" fill="#000"/><circle cx="2009.7" cy="472.8" r="2.75" fill="#000"/><circle cx="2089.4" cy="474.5" r="2.75" fill="#000"/><circle cx="2078.3" cy="483.3" r="2.75" fill="#000"/><circle cx="2054.1" cy="486.3" r="2.75" fill="#000"/><circle cx="2039.3" cy="489.6" r="2.75" fill="#000"/><circle cx="2283.5" cy="296.9" r="2.75" fill="#000"/><circle cx="2306.4" cy="303.3" r="2.75" fill="#000"/><circle cx="2292.3" cy="316.1" r="2.75" fill="#000"/><circle cx="2245.9" cy="326.8" r="2.75" fill="#000"/><circle cx="2250.2" cy="327.8" r="2.75" fill="#000"/><circle cx="2297.0" cy="327.8" r="2.75" fill="#000"/><circle cx="2301.0" cy="326.5" r="2.75" fill="#000"/><circle cx="2272.8" cy="358.1" r="2.75" fill="#000"/><circle cx="2256.0" cy="369.9" r="2.75" fill="#000"/><circle cx="2290.9" cy="368.9" r="2.75" fill="#000"/><circle cx="2304.4" cy="366.5" r="2.75" fill="#000"/><circle cx="2250.9" cy="387.4" r="2.75" fill="#000"/><circle cx="2227.7" cy="396.8" r="2.75" fill="#000"/><circle cx="2257.3" cy="401.5" r="2.75" fill="#000"/><circle cx="2234.1" cy="406.6" r="2.75" fill="#000"/><circle cx="2222.7" cy="410.6" r="2.75" fill="#000"/><circle cx="2293.0" cy="411.9" r="2.75" fill="#000"/><circle cx="2280.8" cy="428.8" r="2.75" fill="#000"/><circle cx="2232.4" cy="431.8" r="2.75" fill="#000"/><circle cx="2252.6" cy="436.5" r="2.75" fill="#000"/><circle cx="2239.1" cy="456.0" r="2.75" fill="#000"/>
<rect x="1917.2" y="269.6" width="476.70000000000005" height="427.9" fill="none" stroke="#595959" stroke-width="1.45"/>
<line x1="1913.2" x2="1917.2" y1="678.40" y2="678.40" stroke="#4d4d4d" stroke-width="1.5"/>
<text x="1898.07" y="687.01" font-size="24.96" fill="#4d4d4d" textLength="13.35" lengthAdjust="spacingAndGlyphs" >0</text>
<line x1="1913.2" x2="1917.2" y1="639.44" y2="639.44" stroke="#4d4d4d" stroke-width="1.5"/>
<text x="1898.31" y="648.05" font-size="24.96" fill="#4d4d4d" textLength="13.35" lengthAdjust="spacingAndGlyphs" >1</text>
<line x1="1913.2" x2="1917.2" y1="600.48" y2="600.48" stroke="#4d4d4d" stroke-width="1.5"/>
<text x="1898.36" y="609.09" font-size="24.96" fill="#4d4d4d" textLength="13.35" lengthAdjust="spacingAndGlyphs" >2</text>
<line x1="1913.2" x2="1917.2" y1="561.52" y2="561.52" stroke="#4d4d4d" stroke-width="1.5"/>
<text x="1898.19" y="570.13" font-size="24.96" fill="#4d4d4d" textLength="13.35" lengthAdjust="spacingAndGlyphs" >3</text>
<line x1="1913.2" x2="1917.2" y1="522.56" y2="522.56" stroke="#4d4d4d" stroke-width="1.5"/>
<text x="1897.85" y="531.17" font-size="24.96" fill="#4d4d4d" textLength="13.35" lengthAdjust="spacingAndGlyphs" >4</text>
<line x1="1913.2" x2="1917.2" y1="483.60" y2="483.60" stroke="#4d4d4d" stroke-width="1.5"/>
<text x="1898.14" y="492.21" font-size="24.96" fill="#4d4d4d" textLength="13.35" lengthAdjust="spacingAndGlyphs" >5</text>
<line x1="1913.2" x2="1917.2" y1="444.64" y2="444.64" stroke="#4d4d4d" stroke-width="1.5"/>
<text x="1898.19" y="453.25" font-size="24.96" fill="#4d4d4d" textLength="13.35" lengthAdjust="spacingAndGlyphs" >6</text>
<line x1="1913.2" x2="1917.2" y1="405.68" y2="405.68" stroke="#4d4d4d" stroke-width="1.5"/>
<text x="1898.36" y="414.29" font-size="24.96" fill="#4d4d4d" textLength="13.35" lengthAdjust="spacingAndGlyphs" >7</text>
<line x1="1913.2" x2="1917.2" y1="366.72" y2="366.72" stroke="#4d4d4d" stroke-width="1.5"/>
<text x="1898.19" y="375.33" font-size="24.96" fill="#4d4d4d" textLength="13.35" lengthAdjust="spacingAndGlyphs" >8</text>
<line x1="1913.2" x2="1917.2" y1="327.76" y2="327.76" stroke="#4d4d4d" stroke-width="1.5"/>
<text x="1898.28" y="336.37" font-size="24.96" fill="#4d4d4d" textLength="13.35" lengthAdjust="spacingAndGlyphs" >9</text>
<line x1="1913.2" x2="1917.2" y1="288.80" y2="288.80" stroke="#4d4d4d" stroke-width="1.5"/>
<text x="1884.72" y="297.41" font-size="24.96" fill="#4d4d4d" textLength="26.70" lengthAdjust="spacingAndGlyphs" >10</text>
<line x1="2047" x2="2047" y1="697.5" y2="702.0" stroke="#4d4d4d" stroke-width="1.5"/>
<line x1="2263.7" x2="2263.7" y1="697.5" y2="702.0" stroke="#4d4d4d" stroke-width="1.5"/>
<text x="2011.35" y="721.40" font-size="25.48" fill="#4d4d4d" textLength="72.84" lengthAdjust="spacingAndGlyphs" >Apical</text>
<text x="2229.75" y="721.40" font-size="25.48" fill="#4d4d4d" textLength="68.68" lengthAdjust="spacingAndGlyphs" >Basal</text>
<text x="2045.96" y="753.40" font-size="32.24" fill="#000" textLength="216.95" lengthAdjust="spacingAndGlyphs" >Location of cut</text>
<text x="1916.29" y="256.20" font-size="38.48" font-weight="bold" fill="#000" textLength="278.04" lengthAdjust="spacingAndGlyphs" >Apical vs Basal</text>
<g transform="translate(1871.80,598.60) rotate(-90)"><text x="-2.67" y="0" font-size="34.84" fill="#000" textLength="235.19" lengthAdjust="spacingAndGlyphs">Response in um</text></g>
<rect x="1918.1" y="832" width="479.3000000000002" height="396.5999999999999" fill="#fff"/>
<line x1="1918.1" x2="2397.4" y1="1192.75" y2="1192.75" stroke="#f3f3f3" stroke-width="1.0"/>
<line x1="1918.1" x2="2397.4" y1="1156.65" y2="1156.65" stroke="#f3f3f3" stroke-width="1.0"/>
<line x1="1918.1" x2="2397.4" y1="1120.55" y2="1120.55" stroke="#f3f3f3" stroke-width="1.0"/>
<line x1="1918.1" x2="2397.4" y1="1084.45" y2="1084.45" stroke="#f3f3f3" stroke-width="1.0"/>
<line x1="1918.1" x2="2397.4" y1="1048.35" y2="1048.35" stroke="#f3f3f3" stroke-width="1.0"/>
<line x1="1918.1" x2="2397.4" y1="1012.25" y2="1012.25" stroke="#f3f3f3" stroke-width="1.0"/>
<line x1="1918.1" x2="2397.4" y1="976.15" y2="976.15" stroke="#f3f3f3" stroke-width="1.0"/>
<line x1="1918.1" x2="2397.4" y1="940.05" y2="940.05" stroke="#f3f3f3" stroke-width="1.0"/>
<line x1="1918.1" x2="2397.4" y1="903.95" y2="903.95" stroke="#f3f3f3" stroke-width="1.0"/>
<line x1="1918.1" x2="2397.4" y1="867.85" y2="867.85" stroke="#f3f3f3" stroke-width="1.0"/>
<line x1="1918.1" x2="2397.4" y1="1210.80" y2="1210.80" stroke="#ececec" stroke-width="1.8"/>
<line x1="1918.1" x2="2397.4" y1="1174.70" y2="1174.70" stroke="#ececec" stroke-width="1.8"/>
<line x1="1918.1" x2="2397.4" y1="1138.60" y2="1138.60" stroke="#ececec" stroke-width="1.8"/>
<line x1="1918.1" x2="2397.4" y1="1102.50" y2="1102.50" stroke="#ececec" stroke-width="1.8"/>
<line x1="1918.1" x2="2397.4" y1="1066.40" y2="1066.40" stroke="#ececec" stroke-width="1.8"/>
<line x1="1918.1" x2="2397.4" y1="1030.30" y2="1030.30" stroke="#ececec" stroke-width="1.8"/>
<line x1="1918.1" x2="2397.4" y1="994.20" y2="994.20" stroke="#ececec" stroke-width="1.8"/>
<line x1="1918.1" x2="2397.4" y1="958.10" y2="958.10" stroke="#ececec" stroke-width="1.8"/>
<line x1="1918.1" x2="2397.4" y1="922.00" y2="922.00" stroke="#ececec" stroke-width="1.8"/>
<line x1="1918.1" x2="2397.4" y1="885.90" y2="885.90" stroke="#ececec" stroke-width="1.8"/>
<line x1="1918.1" x2="2397.4" y1="849.80" y2="849.80" stroke="#ececec" stroke-width="1.8"/>
<line y1="832" y2="1228.6" x1="2048.80" x2="2048.80" stroke="#ececec" stroke-width="1.6"/>
<line y1="832" y2="1228.6" x1="2267.10" x2="2267.10" stroke="#ececec" stroke-width="1.6"/>
<line x1="2048.8" x2="2048.8" y1="948.6" y2="1050.0" stroke="#1c355e" stroke-width="2.4"/>
<line x1="2048.8" x2="2048.8" y1="1120.4" y2="1167.0" stroke="#1c355e" stroke-width="2.4"/>
<rect x="1967.0" y="1050.0" width="164.2" height="70.4" fill="#74a8d3" stroke="#1c355e" stroke-width="2.4"/>
<line x1="1967.0" x2="2131.2" y1="1086.2" y2="1086.2" stroke="#1c355e" stroke-width="5"/>
<line x1="2267.1" x2="2267.1" y1="904.0" y2="930.5" stroke="#1c355e" stroke-width="2.4"/>
<line x1="2267.1" x2="2267.1" y1="1022.6" y2="1025.3" stroke="#1c355e" stroke-width="2.4"/>
<rect x="2185.1" y="930.5" width="164.1" height="92.1" fill="#74a8d3" stroke="#1c355e" stroke-width="2.4"/>
<line x1="2185.1" x2="2349.2" y1="968.3" y2="968.3" stroke="#1c355e" stroke-width="5"/>
<circle cx="2037.3" cy="880.4" r="2.75" fill="#000"/><circle cx="2049.0" cy="880.4" r="2.75" fill="#6b6d8c"/><circle cx="2048.2" cy="885.9" r="2.75" fill="#000"/><circle cx="2037.5" cy="935.3" r="2.75" fill="#000"/><circle cx="2049.0" cy="935.3" r="2.75" fill="#6b6d8c"/><circle cx="2049.0" cy="942.1" r="2.75" fill="#6b6d8c"/><circle cx="2087.8" cy="942.1" r="2.75" fill="#000"/><circle cx="2038.4" cy="948.6" r="2.75" fill="#000"/><circle cx="2071.7" cy="976.0" r="2.75" fill="#000"/><circle cx="2065.6" cy="989.0" r="2.75" fill="#000"/><circle cx="2064.9" cy="997.5" r="2.75" fill="#000"/><circle cx="2013.3" cy="998.2" r="2.75" fill="#000"/><circle cx="2054.5" cy="1013.4" r="2.75" fill="#000"/><circle cx="2085.6" cy="1016.9" r="2.75" fill="#000"/><circle cx="2012.3" cy="1022.3" r="2.75" fill="#000"/><circle cx="2067.3" cy="1026.7" r="2.75" fill="#000"/><circle cx="2052.7" cy="1028.0" r="2.75" fill="#000"/><circle cx="2056.0" cy="1029.1" r="2.75" fill="#000"/><circle cx="2008.5" cy="1029.1" r="2.75" fill="#000"/><circle cx="2082.8" cy="1035.2" r="2.75" fill="#000"/><circle cx="2022.2" cy="1039.3" r="2.75" fill="#000"/><circle cx="2037.0" cy="1039.3" r="2.75" fill="#000"/><circle cx="2059.3" cy="1039.3" r="2.75" fill="#000"/><circle cx="2079.7" cy="1039.3" r="2.75" fill="#000"/><circle cx="2039.4" cy="1043.0" r="2.75" fill="#000"/><circle cx="2022.2" cy="1044.8" r="2.75" fill="#000"/><circle cx="2031.8" cy="1044.8" r="2.75" fill="#000"/><circle cx="2012.0" cy="1045.8" r="2.75" fill="#000"/><circle cx="2073.2" cy="1045.8" r="2.75" fill="#000"/><circle cx="2062.3" cy="1049.3" r="2.75" fill="#000"/><circle cx="2018.6" cy="1051.5" r="2.75" fill="#000"/><circle cx="2012.0" cy="1055.9" r="2.75" fill="#000"/><circle cx="2023.1" cy="1055.9" r="2.75" fill="#000"/><circle cx="2034.2" cy="1055.9" r="2.75" fill="#000"/><circle cx="2051.9" cy="1055.9" r="2.75" fill="#000"/><circle cx="2054.7" cy="1057.6" r="2.75" fill="#000"/><circle cx="2071.2" cy="1055.9" r="2.75" fill="#000"/><circle cx="2091.9" cy="1055.9" r="2.75" fill="#000"/><circle cx="2059.2" cy="1060.2" r="2.75" fill="#000"/><circle cx="2060.5" cy="1060.6" r="2.75" fill="#000"/><circle cx="2081.7" cy="1061.7" r="2.75" fill="#000"/><circle cx="2049.9" cy="1064.4" r="2.75" fill="#000"/><circle cx="2038.8" cy="1065.9" r="2.75" fill="#000"/><circle cx="2040.3" cy="1068.5" r="2.75" fill="#000"/><circle cx="2017.5" cy="1068.5" r="2.75" fill="#000"/><circle cx="2040.3" cy="1070.4" r="2.75" fill="#000"/><circle cx="2008.6" cy="1075.4" r="2.75" fill="#000"/><circle cx="2021.8" cy="1074.8" r="2.75" fill="#000"/><circle cx="2031.0" cy="1076.1" r="2.75" fill="#000"/><circle cx="2047.5" cy="1075.4" r="2.75" fill="#000"/><circle cx="2053.1" cy="1077.4" r="2.75" fill="#000"/><circle cx="2092.3" cy="1081.5" r="2.75" fill="#000"/><circle cx="2012.3" cy="1083.5" r="2.75" fill="#000"/><circle cx="2023.6" cy="1082.8" r="2.75" fill="#000"/><circle cx="2054.5" cy="1085.2" r="2.75" fill="#000"/><circle cx="2049.0" cy="1086.5" r="2.75" fill="#000"/><circle cx="2091.9" cy="1085.7" r="2.75" fill="#000"/><circle cx="2041.4" cy="1090.5" r="2.75" fill="#000"/><circle cx="2059.3" cy="1090.5" r="2.75" fill="#000"/><circle cx="2066.0" cy="1089.8" r="2.75" fill="#000"/><circle cx="2082.3" cy="1089.4" r="2.75" fill="#000"/><circle cx="2010.7" cy="1093.1" r="2.75" fill="#000"/><circle cx="2014.6" cy="1096.3" r="2.75" fill="#000"/><circle cx="2086.4" cy="1096.3" r="2.75" fill="#000"/><circle cx="2048.6" cy="1102.4" r="2.75" fill="#000"/><circle cx="2051.4" cy="1104.4" r="2.75" fill="#000"/><circle cx="2037.0" cy="1105.1" r="2.75" fill="#000"/><circle cx="2052.3" cy="1106.6" r="2.75" fill="#000"/><circle cx="2062.9" cy="1104.6" r="2.75" fill="#000"/><circle cx="2069.3" cy="1106.3" r="2.75" fill="#000"/><circle cx="2072.1" cy="1105.3" r="2.75" fill="#000"/><circle cx="2087.3" cy="1104.2" r="2.75" fill="#000"/><circle cx="2091.9" cy="1104.8" r="2.75" fill="#000"/><circle cx="2076.2" cy="1109.8" r="2.75" fill="#000"/><circle cx="2051.8" cy="1111.8" r="2.75" fill="#000"/><circle cx="2023.6" cy="1115.9" r="2.75" fill="#000"/><circle cx="2081.7" cy="1115.1" r="2.75" fill="#000"/><circle cx="2006.4" cy="1117.7" r="2.75" fill="#000"/><circle cx="2056.9" cy="1116.6" r="2.75" fill="#000"/><circle cx="2064.7" cy="1120.7" r="2.75" fill="#000"/><circle cx="2015.7" cy="1122.7" r="2.75" fill="#000"/><circle cx="2032.3" cy="1124.9" r="2.75" fill="#000"/><circle cx="2044.0" cy="1131.8" r="2.75" fill="#000"/><circle cx="2035.7" cy="1134.4" r="2.75" fill="#000"/><circle cx="2051.8" cy="1135.1" r="2.75" fill="#000"/><circle cx="2054.5" cy="1134.4" r="2.75" fill="#000"/><circle cx="2060.5" cy="1134.4" r="2.75" fill="#000"/><circle cx="2062.5" cy="1135.7" r="2.75" fill="#000"/><circle cx="2008.5" cy="1142.7" r="2.75" fill="#000"/><circle cx="2020.5" cy="1142.3" r="2.75" fill="#000"/><circle cx="2072.1" cy="1141.4" r="2.75" fill="#000"/><circle cx="2075.8" cy="1142.0" r="2.75" fill="#000"/><circle cx="2079.5" cy="1142.3" r="2.75" fill="#000"/><circle cx="2081.7" cy="1144.9" r="2.75" fill="#000"/><circle cx="2028.1" cy="1145.8" r="2.75" fill="#000"/><circle cx="2059.2" cy="1143.4" r="2.75" fill="#000"/><circle cx="2014.8" cy="1148.6" r="2.75" fill="#000"/><circle cx="2019.9" cy="1148.6" r="2.75" fill="#000"/><circle cx="2037.0" cy="1150.1" r="2.75" fill="#000"/><circle cx="2081.4" cy="1153.4" r="2.75" fill="#000"/><circle cx="2024.0" cy="1154.9" r="2.75" fill="#000"/><circle cx="2025.5" cy="1164.0" r="2.75" fill="#000"/><circle cx="2023.5" cy="1167.1" r="2.75" fill="#000"/><circle cx="2069.1" cy="1165.8" r="2.75" fill="#000"/>
<circle cx="2261.5" cy="912.4" r="2.75" fill="#000"/><circle cx="2308.3" cy="904.4" r="2.75" fill="#000"/><circle cx="2287.2" cy="936.5" r="2.75" fill="#000"/><circle cx="2269.8" cy="949.2" r="2.75" fill="#000"/><circle cx="2269.2" cy="988.8" r="2.75" fill="#000"/><circle cx="2224.9" cy="1021.9" r="2.75" fill="#000"/><circle cx="2256.4" cy="1024.9" r="2.75" fill="#000"/>
<rect x="1918.1" y="832" width="479.3000000000002" height="396.5999999999999" fill="none" stroke="#595959" stroke-width="1.45"/>
<line x1="1914.1" x2="1918.1" y1="1210.80" y2="1210.80" stroke="#4d4d4d" stroke-width="1.5"/>
<text x="1898.46" y="1218.84" font-size="23.3" fill="#4d4d4d" textLength="15.07" lengthAdjust="spacingAndGlyphs" >0</text>
<line x1="1914.1" x2="1918.1" y1="1174.70" y2="1174.70" stroke="#4d4d4d" stroke-width="1.5"/>
<text x="1898.73" y="1182.74" font-size="23.3" fill="#4d4d4d" textLength="15.07" lengthAdjust="spacingAndGlyphs" >1</text>
<line x1="1914.1" x2="1918.1" y1="1138.60" y2="1138.60" stroke="#4d4d4d" stroke-width="1.5"/>
<text x="1898.79" y="1146.64" font-size="23.3" fill="#4d4d4d" textLength="15.07" lengthAdjust="spacingAndGlyphs" >2</text>
<line x1="1914.1" x2="1918.1" y1="1102.50" y2="1102.50" stroke="#4d4d4d" stroke-width="1.5"/>
<text x="1898.60" y="1110.54" font-size="23.3" fill="#4d4d4d" textLength="15.07" lengthAdjust="spacingAndGlyphs" >3</text>
<line x1="1914.1" x2="1918.1" y1="1066.40" y2="1066.40" stroke="#4d4d4d" stroke-width="1.5"/>
<text x="1898.22" y="1074.44" font-size="23.3" fill="#4d4d4d" textLength="15.07" lengthAdjust="spacingAndGlyphs" >4</text>
<line x1="1914.1" x2="1918.1" y1="1030.30" y2="1030.30" stroke="#4d4d4d" stroke-width="1.5"/>
<text x="1898.54" y="1038.34" font-size="23.3" fill="#4d4d4d" textLength="15.07" lengthAdjust="spacingAndGlyphs" >5</text>
<line x1="1914.1" x2="1918.1" y1="994.20" y2="994.20" stroke="#4d4d4d" stroke-width="1.5"/>
<text x="1898.60" y="1002.24" font-size="23.3" fill="#4d4d4d" textLength="15.07" lengthAdjust="spacingAndGlyphs" >6</text>
<line x1="1914.1" x2="1918.1" y1="958.10" y2="958.10" stroke="#4d4d4d" stroke-width="1.5"/>
<text x="1898.79" y="966.14" font-size="23.3" fill="#4d4d4d" textLength="15.07" lengthAdjust="spacingAndGlyphs" >7</text>
<line x1="1914.1" x2="1918.1" y1="922.00" y2="922.00" stroke="#4d4d4d" stroke-width="1.5"/>
<text x="1898.60" y="930.04" font-size="23.3" fill="#4d4d4d" textLength="15.07" lengthAdjust="spacingAndGlyphs" >8</text>
<line x1="1914.1" x2="1918.1" y1="885.90" y2="885.90" stroke="#4d4d4d" stroke-width="1.5"/>
<text x="1898.70" y="893.94" font-size="23.3" fill="#4d4d4d" textLength="15.07" lengthAdjust="spacingAndGlyphs" >9</text>
<line x1="1914.1" x2="1918.1" y1="849.80" y2="849.80" stroke="#4d4d4d" stroke-width="1.5"/>
<text x="1883.39" y="857.84" font-size="23.3" fill="#4d4d4d" textLength="30.15" lengthAdjust="spacingAndGlyphs" >10</text>
<line x1="2048.8" x2="2048.8" y1="1228.6" y2="1233.1" stroke="#4d4d4d" stroke-width="1.5"/>
<line x1="2267.1" x2="2267.1" y1="1228.6" y2="1233.1" stroke="#4d4d4d" stroke-width="1.5"/>
<text x="2017.42" y="1250.70" font-size="24.96" fill="#4d4d4d" textLength="65.03" lengthAdjust="spacingAndGlyphs" >TypeI</text>
<text x="2234.44" y="1250.70" font-size="24.96" fill="#4d4d4d" textLength="69.40" lengthAdjust="spacingAndGlyphs" >TypeII</text>
<text x="2076.87" y="1280.20" font-size="31.2" fill="#000" textLength="161.34" lengthAdjust="spacingAndGlyphs" >Type of cut</text>
<text x="1917.68" y="819.30" font-size="35.98" font-weight="bold" fill="#000" textLength="290.38" lengthAdjust="spacingAndGlyphs" >Type I vs Type II</text>
<g transform="translate(1872.30,1265.80) rotate(-90)"><text x="-2.46" y="0" font-size="34.84" fill="#000" textLength="477.63" lengthAdjust="spacingAndGlyphs">Response perpendicular to cut (um)</text></g>
<rect x="170.5" y="1411" width="570.2" height="526.0999999999999" fill="#fff"/>
<line x1="170.5" x2="740.7" y1="1889.47" y2="1889.47" stroke="#f3f3f3" stroke-width="1.0"/>
<line x1="170.5" x2="740.7" y1="1841.60" y2="1841.60" stroke="#f3f3f3" stroke-width="1.0"/>
<line x1="170.5" x2="740.7" y1="1793.73" y2="1793.73" stroke="#f3f3f3" stroke-width="1.0"/>
<line x1="170.5" x2="740.7" y1="1745.86" y2="1745.86" stroke="#f3f3f3" stroke-width="1.0"/>
<line x1="170.5" x2="740.7" y1="1697.99" y2="1697.99" stroke="#f3f3f3" stroke-width="1.0"/>
<line x1="170.5" x2="740.7" y1="1650.12" y2="1650.12" stroke="#f3f3f3" stroke-width="1.0"/>
<line x1="170.5" x2="740.7" y1="1602.25" y2="1602.25" stroke="#f3f3f3" stroke-width="1.0"/>
<line x1="170.5" x2="740.7" y1="1554.38" y2="1554.38" stroke="#f3f3f3" stroke-width="1.0"/>
<line x1="170.5" x2="740.7" y1="1506.51" y2="1506.51" stroke="#f3f3f3" stroke-width="1.0"/>
<line x1="170.5" x2="740.7" y1="1458.63" y2="1458.63" stroke="#f3f3f3" stroke-width="1.0"/>
<line x1="170.5" x2="740.7" y1="1913.40" y2="1913.40" stroke="#ececec" stroke-width="1.8"/>
<line x1="170.5" x2="740.7" y1="1865.53" y2="1865.53" stroke="#ececec" stroke-width="1.8"/>
<line x1="170.5" x2="740.7" y1="1817.66" y2="1817.66" stroke="#ececec" stroke-width="1.8"/>
<line x1="170.5" x2="740.7" y1="1769.79" y2="1769.79" stroke="#ececec" stroke-width="1.8"/>
<line x1="170.5" x2="740.7" y1="1721.92" y2="1721.92" stroke="#ececec" stroke-width="1.8"/>
<line x1="170.5" x2="740.7" y1="1674.05" y2="1674.05" stroke="#ececec" stroke-width="1.8"/>
<line x1="170.5" x2="740.7" y1="1626.18" y2="1626.18" stroke="#ececec" stroke-width="1.8"/>
<line x1="170.5" x2="740.7" y1="1578.31" y2="1578.31" stroke="#ececec" stroke-width="1.8"/>
<line x1="170.5" x2="740.7" y1="1530.44" y2="1530.44" stroke="#ececec" stroke-width="1.8"/>
<line x1="170.5" x2="740.7" y1="1482.57" y2="1482.57" stroke="#ececec" stroke-width="1.8"/>
<line x1="170.5" x2="740.7" y1="1434.70" y2="1434.70" stroke="#ececec" stroke-width="1.8"/>
<line y1="1411" y2="1937.1" x1="325.70" x2="325.70" stroke="#ececec" stroke-width="1.6"/>
<line y1="1411" y2="1937.1" x1="585.00" x2="585.00" stroke="#ececec" stroke-width="1.6"/>
<line x1="228.6" x2="423.3" y1="1913.4" y2="1913.4" stroke="#1c355e" stroke-width="6" stroke-linecap="round"/>
<circle cx="275.0" cy="1913.4" r="3.3" fill="#000"/><circle cx="284.0" cy="1913.4" r="3.3" fill="#000"/><circle cx="288.0" cy="1913.4" r="3.3" fill="#000"/><circle cx="292.0" cy="1913.4" r="3.3" fill="#000"/><circle cx="296.0" cy="1913.4" r="3.3" fill="#000"/><circle cx="300.0" cy="1913.4" r="3.3" fill="#000"/><circle cx="304.0" cy="1913.4" r="3.3" fill="#000"/><circle cx="312.0" cy="1913.4" r="3.3" fill="#000"/><circle cx="317.0" cy="1913.4" r="3.3" fill="#000"/><circle cx="322.0" cy="1913.4" r="3.3" fill="#000"/><circle cx="327.0" cy="1913.4" r="3.3" fill="#000"/><circle cx="332.0" cy="1913.4" r="3.3" fill="#000"/><circle cx="336.0" cy="1913.4" r="3.3" fill="#000"/><circle cx="340.0" cy="1913.4" r="3.3" fill="#000"/><circle cx="349.0" cy="1913.4" r="3.3" fill="#000"/><circle cx="353.0" cy="1913.4" r="3.3" fill="#000"/><circle cx="357.0" cy="1913.4" r="3.3" fill="#000"/><circle cx="361.0" cy="1913.4" r="3.3" fill="#000"/><circle cx="365.0" cy="1913.4" r="3.3" fill="#000"/><circle cx="370.0" cy="1913.4" r="3.3" fill="#000"/><circle cx="373.0" cy="1913.4" r="3.3" fill="#000"/><circle cx="375.0" cy="1913.4" r="3.3" fill="#000"/>
<line x1="585.0" x2="585.0" y1="1490.5" y2="1510.8" stroke="#1c355e" stroke-width="2.6"/>
<line x1="585.0" x2="585.0" y1="1658.9" y2="1720.0" stroke="#1c355e" stroke-width="2.6"/>
<rect x="487.5" y="1510.8" width="195.1" height="148.1" fill="#74a8d3" stroke="#1c355e" stroke-width="2.6"/>
<line x1="487.5" x2="682.6" y1="1584.6" y2="1584.6" stroke="#1c355e" stroke-width="5.5"/>
<circle cx="578.9" cy="1490.5" r="3.3" fill="#000"/><circle cx="618.5" cy="1494.1" r="3.3" fill="#000"/><circle cx="600.4" cy="1510.3" r="3.3" fill="#000"/><circle cx="543.7" cy="1584.2" r="3.3" fill="#000"/><circle cx="617.1" cy="1583.7" r="3.3" fill="#000"/><circle cx="584.6" cy="1592.5" r="3.3" fill="#000"/><circle cx="549.0" cy="1658.5" r="3.3" fill="#000"/><circle cx="605.3" cy="1658.5" r="3.3" fill="#000"/><circle cx="618.5" cy="1720.4" r="3.3" fill="#000"/>
<rect x="170.5" y="1411" width="570.2" height="526.0999999999999" fill="none" stroke="#595959" stroke-width="1.45"/>
<line x1="165.5" x2="170.5" y1="1913.40" y2="1913.40" stroke="#4d4d4d" stroke-width="1.5"/>
<text x="147.52" y="1923.98" font-size="30.68" fill="#4d4d4d" textLength="16.41" lengthAdjust="spacingAndGlyphs" >0</text>
<line x1="165.5" x2="170.5" y1="1865.53" y2="1865.53" stroke="#4d4d4d" stroke-width="1.5"/>
<text x="147.81" y="1876.11" font-size="30.68" fill="#4d4d4d" textLength="16.41" lengthAdjust="spacingAndGlyphs" >1</text>
<line x1="165.5" x2="170.5" y1="1817.66" y2="1817.66" stroke="#4d4d4d" stroke-width="1.5"/>
<text x="147.87" y="1828.24" font-size="30.68" fill="#4d4d4d" textLength="16.41" lengthAdjust="spacingAndGlyphs" >2</text>
<line x1="165.5" x2="170.5" y1="1769.79" y2="1769.79" stroke="#4d4d4d" stroke-width="1.5"/>
<text x="147.67" y="1780.37" font-size="30.68" fill="#4d4d4d" textLength="16.41" lengthAdjust="spacingAndGlyphs" >3</text>
<line x1="165.5" x2="170.5" y1="1721.92" y2="1721.92" stroke="#4d4d4d" stroke-width="1.5"/>
<text x="147.25" y="1732.50" font-size="30.68" fill="#4d4d4d" textLength="16.41" lengthAdjust="spacingAndGlyphs" >4</text>
<line x1="165.5" x2="170.5" y1="1674.05" y2="1674.05" stroke="#4d4d4d" stroke-width="1.5"/>
<text x="147.61" y="1684.63" font-size="30.68" fill="#4d4d4d" textLength="16.41" lengthAdjust="spacingAndGlyphs" >5</text>
<line x1="165.5" x2="170.5" y1="1626.18" y2="1626.18" stroke="#4d4d4d" stroke-width="1.5"/>
<text x="147.67" y="1636.76" font-size="30.68" fill="#4d4d4d" textLength="16.41" lengthAdjust="spacingAndGlyphs" >6</text>
<line x1="165.5" x2="170.5" y1="1578.31" y2="1578.31" stroke="#4d4d4d" stroke-width="1.5"/>
<text x="147.87" y="1588.89" font-size="30.68" fill="#4d4d4d" textLength="16.41" lengthAdjust="spacingAndGlyphs" >7</text>
<line x1="165.5" x2="170.5" y1="1530.44" y2="1530.44" stroke="#4d4d4d" stroke-width="1.5"/>
<text x="147.67" y="1541.02" font-size="30.68" fill="#4d4d4d" textLength="16.41" lengthAdjust="spacingAndGlyphs" >8</text>
<line x1="165.5" x2="170.5" y1="1482.57" y2="1482.57" stroke="#4d4d4d" stroke-width="1.5"/>
<text x="147.78" y="1493.15" font-size="30.68" fill="#4d4d4d" textLength="16.41" lengthAdjust="spacingAndGlyphs" >9</text>
<line x1="165.5" x2="170.5" y1="1434.70" y2="1434.70" stroke="#4d4d4d" stroke-width="1.5"/>
<text x="131.12" y="1445.28" font-size="30.68" fill="#4d4d4d" textLength="32.81" lengthAdjust="spacingAndGlyphs" >10</text>
<line x1="325.7" x2="325.7" y1="1937.1" y2="1942.1" stroke="#4d4d4d" stroke-width="1.5"/>
<line x1="585" x2="585" y1="1937.1" y2="1942.1" stroke="#4d4d4d" stroke-width="1.5"/>
<text x="288.10" y="1966.00" font-size="31.2" fill="#4d4d4d" textLength="77.40" lengthAdjust="spacingAndGlyphs" >TypeI</text>
<text x="543.91" y="1966.00" font-size="31.2" fill="#4d4d4d" textLength="84.94" lengthAdjust="spacingAndGlyphs" >TypeII</text>
<text x="359.54" y="2005.70" font-size="40.56" fill="#000" textLength="192.32" lengthAdjust="spacingAndGlyphs" >Type of cut</text>
<text x="170.00" y="1393.80" font-size="44.72" font-weight="bold" fill="#000" textLength="345.04" lengthAdjust="spacingAndGlyphs" >Type I vs Type II</text>
<g transform="translate(115.60,1962.60) rotate(-90)"><text x="-3.27" y="0" font-size="41.6" fill="#000" textLength="585.46" lengthAdjust="spacingAndGlyphs">Response in direction of cut (um)</text></g>
<rect x="1019.6" y="1411" width="339.69999999999993" height="526.0999999999999" fill="#fff"/>
<line x1="1019.6" x2="1359.3" y1="1889.47" y2="1889.47" stroke="#f3f3f3" stroke-width="1.0"/>
<line x1="1019.6" x2="1359.3" y1="1841.60" y2="1841.60" stroke="#f3f3f3" stroke-width="1.0"/>
<line x1="1019.6" x2="1359.3" y1="1793.73" y2="1793.73" stroke="#f3f3f3" stroke-width="1.0"/>
<line x1="1019.6" x2="1359.3" y1="1745.86" y2="1745.86" stroke="#f3f3f3" stroke-width="1.0"/>
<line x1="1019.6" x2="1359.3" y1="1697.99" y2="1697.99" stroke="#f3f3f3" stroke-width="1.0"/>
<line x1="1019.6" x2="1359.3" y1="1650.12" y2="1650.12" stroke="#f3f3f3" stroke-width="1.0"/>
<line x1="1019.6" x2="1359.3" y1="1602.25" y2="1602.25" stroke="#f3f3f3" stroke-width="1.0"/>
<line x1="1019.6" x2="1359.3" y1="1554.38" y2="1554.38" stroke="#f3f3f3" stroke-width="1.0"/>
<line x1="1019.6" x2="1359.3" y1="1506.51" y2="1506.51" stroke="#f3f3f3" stroke-width="1.0"/>
<line x1="1019.6" x2="1359.3" y1="1458.63" y2="1458.63" stroke="#f3f3f3" stroke-width="1.0"/>
<line x1="1019.6" x2="1359.3" y1="1913.40" y2="1913.40" stroke="#ececec" stroke-width="1.8"/>
<line x1="1019.6" x2="1359.3" y1="1865.53" y2="1865.53" stroke="#ececec" stroke-width="1.8"/>
<line x1="1019.6" x2="1359.3" y1="1817.66" y2="1817.66" stroke="#ececec" stroke-width="1.8"/>
<line x1="1019.6" x2="1359.3" y1="1769.79" y2="1769.79" stroke="#ececec" stroke-width="1.8"/>
<line x1="1019.6" x2="1359.3" y1="1721.92" y2="1721.92" stroke="#ececec" stroke-width="1.8"/>
<line x1="1019.6" x2="1359.3" y1="1674.05" y2="1674.05" stroke="#ececec" stroke-width="1.8"/>
<line x1="1019.6" x2="1359.3" y1="1626.18" y2="1626.18" stroke="#ececec" stroke-width="1.8"/>
<line x1="1019.6" x2="1359.3" y1="1578.31" y2="1578.31" stroke="#ececec" stroke-width="1.8"/>
<line x1="1019.6" x2="1359.3" y1="1530.44" y2="1530.44" stroke="#ececec" stroke-width="1.8"/>
<line x1="1019.6" x2="1359.3" y1="1482.57" y2="1482.57" stroke="#ececec" stroke-width="1.8"/>
<line x1="1019.6" x2="1359.3" y1="1434.70" y2="1434.70" stroke="#ececec" stroke-width="1.8"/>
<line y1="1411" y2="1937.1" x1="1060.22" x2="1060.22" stroke="#f3f3f3" stroke-width="1.1"/>
<line y1="1411" y2="1937.1" x1="1140.67" x2="1140.67" stroke="#f3f3f3" stroke-width="1.1"/>
<line y1="1411" y2="1937.1" x1="1221.12" x2="1221.12" stroke="#f3f3f3" stroke-width="1.1"/>
<line y1="1411" y2="1937.1" x1="1301.58" x2="1301.58" stroke="#f3f3f3" stroke-width="1.1"/>
<line y1="1411" y2="1937.1" x1="1100.45" x2="1100.45" stroke="#ececec" stroke-width="1.6"/>
<line y1="1411" y2="1937.1" x1="1180.90" x2="1180.90" stroke="#ececec" stroke-width="1.6"/>
<line y1="1411" y2="1937.1" x1="1261.35" x2="1261.35" stroke="#ececec" stroke-width="1.6"/>
<line y1="1411" y2="1937.1" x1="1341.80" x2="1341.80" stroke="#ececec" stroke-width="1.6"/>
<polyline points="1042.5,1674.0 1064.9,1710.4 1087.3,1699.2 1106.1,1693.0 1109.7,1717.4 1127.1,1780.5 1132.1,1784.7 1149.5,1800.1 1169.1,1802.9 1191.5,1832.3 1214.0,1874.3 1256.0,1874.9 1278.4,1889.8" fill="none" stroke="#3f97c6" stroke-width="1.6" stroke-linejoin="round"/>
<polyline points="1042.5,1733.7 1062.6,1781.9 1083.7,1790.3 1107.5,1809.9 1127.1,1847.7 1149.5,1845.8 1171.9,1851.9 1194.3,1860.3 1211.2,1867.3 1236.4,1892.6 1256.0,1903.8 1278.4,1905.2" fill="none" stroke="#3f97c6" stroke-width="1.6" stroke-linejoin="round"/>
<polyline points="1035.5,1845.5 1050.0,1879.9 1080.9,1906.6 1111.7,1907.4 1127.1,1902.4 1141.1,1901.0 1157.9,1893.4 1171.9,1899.6 1188.7,1903.8 1203.3,1901.5" fill="none" stroke="#3f97c6" stroke-width="1.6" stroke-linejoin="round"/>
<polyline points="1042.5,1517.9 1064.9,1517.9 1087.3,1473.1 1109.7,1495.2 1132.1,1587.7 1154.6,1545.9 1177.0,1562.5 1199.4,1556.9 1221.8,1627.7 1244.2,1559.1 1266.6,1579.3 1288.2,1667.0" fill="none" stroke="#d5277b" stroke-width="1.6" stroke-linejoin="round"/>
<polyline points="1042.5,1510.1 1064.9,1623.5 1087.3,1568.3 1109.7,1630.6 1132.1,1655.8 1154.6,1662.8 1177.0,1617.1 1199.4,1633.4 1221.8,1655.2 1244.2,1626.3 1266.6,1633.4 1288.2,1602.0" fill="none" stroke="#d5277b" stroke-width="1.6" stroke-linejoin="round"/>
<polyline points="1042.5,1549.3 1064.9,1549.3 1087.3,1630.6 1109.7,1603.9 1132.1,1664.2 1154.6,1575.9 1177.0,1793.1 1199.4,1633.4 1221.8,1630.6 1244.2,1639.0 1266.6,1674.0 1288.2,1646.8" fill="none" stroke="#d5277b" stroke-width="1.6" stroke-linejoin="round"/>
<polyline points="1042.5,1557.7 1064.9,1655.8 1087.3,1588.5 1109.7,1588.5 1132.1,1579.3 1154.6,1562.5 1177.0,1562.5 1199.4,1581.5 1221.8,1630.6 1244.2,1688.0 1266.6,1667.0 1288.2,1667.0" fill="none" stroke="#d5277b" stroke-width="1.6" stroke-linejoin="round"/>
<polyline points="1042.5,1557.7 1064.9,1664.2 1087.3,1696.4 1109.7,1748.2 1132.1,1683.8 1154.6,1716.0 1177.0,1793.1 1199.4,1808.5 1221.8,1762.3 1244.2,1704.8 1266.6,1748.2 1288.2,1809.9" fill="none" stroke="#d5277b" stroke-width="1.6" stroke-linejoin="round"/>
<polyline points="1042.5,1607.6 1064.9,1615.1 1087.3,1616.5 1109.7,1682.4 1132.1,1632.0 1154.6,1773.5 1177.0,1678.2 1199.4,1581.0 1221.8,1655.8 1244.2,1745.4 1266.6,1773.5 1288.2,1794.5" fill="none" stroke="#d5277b" stroke-width="1.6" stroke-linejoin="round"/>
<polyline points="1042.5,1620.7 1064.9,1681.0 1087.3,1710.4 1109.7,1682.4 1132.1,1704.8 1154.6,1693.6 1177.0,1697.8 1199.4,1717.4 1221.8,1688.0 1244.2,1688.0 1266.6,1704.8 1288.2,1719.4" fill="none" stroke="#d5277b" stroke-width="1.6" stroke-linejoin="round"/>
<polyline points="1042.5,1643.2 1064.9,1664.2 1087.3,1622.1 1109.7,1641.8 1132.1,1655.8 1154.6,1681.0 1177.0,1709.0 1199.4,1808.5 1221.8,1753.8 1244.2,1776.3 1266.6,1770.7 1288.2,1776.3" fill="none" stroke="#d5277b" stroke-width="1.6" stroke-linejoin="round"/>
<polyline points="1042.5,1647.4 1064.9,1697.8 1087.3,1707.6 1109.7,1682.4 1132.1,1737.0 1154.6,1748.2 1177.0,1767.9 1199.4,1710.4 1221.8,1731.4 1244.2,1835.1 1266.6,1772.1 1288.2,1779.1" fill="none" stroke="#d5277b" stroke-width="1.6" stroke-linejoin="round"/>
<polyline points="1042.5,1654.4 1064.9,1678.2 1087.3,1697.8 1109.7,1717.4 1132.1,1720.2 1154.6,1720.2 1177.0,1716.0 1199.4,1711.8 1221.8,1742.6 1244.2,1767.9 1266.6,1751.0 1288.2,1737.0" fill="none" stroke="#d5277b" stroke-width="1.6" stroke-linejoin="round"/>
<polyline points="1042.5,1664.2 1064.9,1655.8 1087.3,1667.0 1109.7,1662.8 1132.1,1664.2 1154.6,1675.4 1177.0,1692.2 1199.4,1720.2 1221.8,1756.7 1244.2,1788.9 1266.6,1780.5 1288.2,1773.5" fill="none" stroke="#d5277b" stroke-width="1.6" stroke-linejoin="round"/>
<polyline points="1042.5,1688.0 1064.9,1664.2 1087.3,1697.8 1109.7,1742.6 1132.1,1767.9 1154.6,1766.5 1177.0,1767.9 1199.4,1745.4 1221.8,1692.2 1244.2,1716.0 1266.6,1706.2 1288.2,1748.2" fill="none" stroke="#d5277b" stroke-width="1.6" stroke-linejoin="round"/>
<polyline points="1042.5,1714.6 1064.9,1664.2 1087.3,1709.0 1109.7,1682.4 1132.1,1767.9 1154.6,1788.9 1177.0,1779.1 1199.4,1779.1 1221.8,1787.5 1244.2,1801.5 1266.6,1843.5 1288.2,1821.9" fill="none" stroke="#d5277b" stroke-width="1.6" stroke-linejoin="round"/>
<polyline points="1042.5,1674.0 1064.9,1728.6 1087.3,1751.0 1109.7,1723.0 1132.1,1731.4 1154.6,1742.6 1177.0,1737.0 1199.4,1704.8 1221.8,1728.6 1244.2,1756.7 1266.6,1742.6 1288.2,1756.7 1317.6,1797.3 1344.3,1851.9" fill="none" stroke="#d5277b" stroke-width="1.6" stroke-linejoin="round"/>
<polyline points="1042.5,1664.2 1064.9,1728.6 1087.3,1732.8 1109.7,1748.2 1132.1,1741.2 1154.6,1753.8 1177.0,1755.2 1199.4,1744.0 1221.8,1748.2 1244.2,1762.3 1266.6,1751.0 1288.2,1746.8" fill="none" stroke="#d5277b" stroke-width="1.6" stroke-linejoin="round"/>
<polyline points="1042.5,1749.6 1064.9,1742.6 1087.3,1769.3 1109.7,1751.0 1132.1,1776.3 1154.6,1772.1 1177.0,1807.1 1199.4,1790.3 1221.8,1807.1 1244.2,1807.1 1266.6,1846.3 1288.2,1844.9 1317.6,1835.1 1344.3,1846.3" fill="none" stroke="#d5277b" stroke-width="1.6" stroke-linejoin="round"/>
<polyline points="1034.6,1755.2 1050.0,1774.9 1064.9,1755.2 1087.3,1790.3 1109.7,1767.9 1132.1,1787.5 1154.6,1787.5 1177.0,1784.7 1199.4,1790.3 1221.8,1742.6 1244.2,1704.8 1266.6,1742.6 1288.2,1795.9" fill="none" stroke="#d5277b" stroke-width="1.6" stroke-linejoin="round"/>
<polyline points="1040.2,1776.3 1064.9,1791.7 1087.3,1809.9 1109.7,1809.9 1132.1,1811.3 1154.6,1847.7 1177.0,1832.3 1199.4,1877.1 1221.8,1860.3 1244.2,1801.5 1266.6,1846.3 1288.2,1888.4" fill="none" stroke="#d5277b" stroke-width="1.6" stroke-linejoin="round"/>
<polyline points="1042.5,1752.4 1064.9,1793.1 1087.3,1826.7 1109.7,1840.7 1132.1,1854.7 1154.6,1865.9 1177.0,1863.1 1199.4,1871.5 1221.8,1888.4 1244.2,1885.6 1266.6,1854.7 1288.2,1888.4" fill="none" stroke="#d5277b" stroke-width="1.6" stroke-linejoin="round"/>
<polyline points="1034.6,1826.1 1045.8,1825.3 1064.9,1812.7 1087.3,1825.3 1109.7,1843.5 1132.1,1837.9 1154.6,1847.7 1177.0,1830.9 1199.4,1871.5 1221.8,1879.9 1244.2,1888.4 1266.6,1877.1 1288.2,1867.3" fill="none" stroke="#d5277b" stroke-width="1.6" stroke-linejoin="round"/>
<polyline points="1045.8,1821.7 1064.9,1836.5 1087.3,1843.5 1109.7,1843.5 1132.1,1849.1 1154.6,1860.3 1177.0,1863.1 1199.4,1872.9 1221.8,1882.8 1244.2,1888.4 1266.6,1885.6 1288.2,1899.6" fill="none" stroke="#d5277b" stroke-width="1.6" stroke-linejoin="round"/>
<polyline points="1039.7,1842.1 1064.9,1868.7 1087.3,1885.6 1109.7,1888.4 1132.1,1891.2 1154.6,1888.4 1177.0,1884.2 1199.4,1881.3 1221.8,1884.2 1244.2,1882.8 1266.6,1875.7 1288.2,1874.3 1298.0,1876.6 1322.7,1866.5" fill="none" stroke="#d5277b" stroke-width="1.6" stroke-linejoin="round"/>
<polyline points="1040.2,1850.5 1064.9,1871.5 1087.3,1888.4 1109.7,1888.4 1132.1,1894.0 1154.6,1888.4 1177.0,1888.4 1199.4,1885.6 1221.8,1888.4 1244.2,1885.6 1266.6,1877.1 1288.2,1881.3 1322.7,1885.6" fill="none" stroke="#d5277b" stroke-width="1.6" stroke-linejoin="round"/>
<polyline points="1040.2,1858.9 1064.9,1868.7 1087.3,1882.8 1109.7,1891.2 1132.1,1895.4 1154.6,1885.6 1177.0,1889.8 1199.4,1882.8 1221.8,1892.6 1244.2,1887.0 1266.6,1887.0" fill="none" stroke="#d5277b" stroke-width="1.6" stroke-linejoin="round"/>
<polyline points="1045.8,1860.3 1064.9,1872.9 1087.3,1899.6 1109.7,1906.6 1132.1,1899.6 1154.6,1892.6 1177.0,1888.4 1199.4,1888.4 1221.8,1891.2 1244.2,1889.8 1266.6,1891.2 1288.2,1899.6" fill="none" stroke="#d5277b" stroke-width="1.6" stroke-linejoin="round"/>
<polyline points="1064.9,1872.9 1087.3,1888.4 1109.7,1899.6 1132.1,1905.2 1154.6,1906.6 1177.0,1908.0 1199.4,1905.2 1221.8,1902.4 1236.4,1899.6 1256.0,1903.8" fill="none" stroke="#d5277b" stroke-width="1.6" stroke-linejoin="round"/>
<polyline points="1042.5,1655.8 1064.9,1723.0 1087.3,1807.1 1109.7,1809.9 1132.1,1826.7 1154.6,1840.7 1177.0,1857.5 1199.4,1860.3 1221.8,1863.1 1236.4,1864.5 1261.6,1861.7 1266.6,1854.7 1288.2,1891.2" fill="none" stroke="#d5277b" stroke-width="1.6" stroke-linejoin="round"/>
<polyline points="1042.5,1654.4 1064.9,1681.0 1087.3,1723.0 1109.7,1734.2 1132.1,1798.7 1154.6,1801.5 1177.0,1790.3 1199.4,1860.3 1221.8,1885.6 1244.2,1888.4 1266.6,1875.7" fill="none" stroke="#d5277b" stroke-width="1.6" stroke-linejoin="round"/>
<polyline points="1042.5,1636.2 1064.9,1700.6 1087.3,1709.0 1109.7,1748.2 1132.1,1766.5 1154.6,1767.9 1177.0,1776.3 1199.4,1790.3 1221.8,1804.3 1244.2,1832.3 1266.6,1860.3 1288.2,1888.4" fill="none" stroke="#d5277b" stroke-width="1.6" stroke-linejoin="round"/>
<rect x="1019.6" y="1411" width="339.69999999999993" height="526.0999999999999" fill="none" stroke="#595959" stroke-width="1.45"/>
<line x1="1014.6" x2="1019.6" y1="1913.40" y2="1913.40" stroke="#4d4d4d" stroke-width="1.5"/>
<text x="997.22" y="1923.98" font-size="30.68" fill="#4d4d4d" textLength="16.41" lengthAdjust="spacingAndGlyphs" >0</text>
<line x1="1014.6" x2="1019.6" y1="1865.53" y2="1865.53" stroke="#4d4d4d" stroke-width="1.5"/>
<text x="980.82" y="1876.11" font-size="30.68" fill="#4d4d4d" textLength="32.81" lengthAdjust="spacingAndGlyphs" >20</text>
<line x1="1014.6" x2="1019.6" y1="1817.66" y2="1817.66" stroke="#4d4d4d" stroke-width="1.5"/>
<text x="980.82" y="1828.24" font-size="30.68" fill="#4d4d4d" textLength="32.81" lengthAdjust="spacingAndGlyphs" >40</text>
<line x1="1014.6" x2="1019.6" y1="1769.79" y2="1769.79" stroke="#4d4d4d" stroke-width="1.5"/>
<text x="980.82" y="1780.37" font-size="30.68" fill="#4d4d4d" textLength="32.81" lengthAdjust="spacingAndGlyphs" >60</text>
<line x1="1014.6" x2="1019.6" y1="1721.92" y2="1721.92" stroke="#4d4d4d" stroke-width="1.5"/>
<text x="980.82" y="1732.50" font-size="30.68" fill="#4d4d4d" textLength="32.81" lengthAdjust="spacingAndGlyphs" >80</text>
<line x1="1014.6" x2="1019.6" y1="1674.05" y2="1674.05" stroke="#4d4d4d" stroke-width="1.5"/>
<text x="964.42" y="1684.63" font-size="30.68" fill="#4d4d4d" textLength="49.22" lengthAdjust="spacingAndGlyphs" >100</text>
<line x1="1014.6" x2="1019.6" y1="1626.18" y2="1626.18" stroke="#4d4d4d" stroke-width="1.5"/>
<text x="964.42" y="1636.76" font-size="30.68" fill="#4d4d4d" textLength="49.22" lengthAdjust="spacingAndGlyphs" >120</text>
<line x1="1014.6" x2="1019.6" y1="1578.31" y2="1578.31" stroke="#4d4d4d" stroke-width="1.5"/>
<text x="964.42" y="1588.89" font-size="30.68" fill="#4d4d4d" textLength="49.22" lengthAdjust="spacingAndGlyphs" >140</text>
<line x1="1014.6" x2="1019.6" y1="1530.44" y2="1530.44" stroke="#4d4d4d" stroke-width="1.5"/>
<text x="964.42" y="1541.02" font-size="30.68" fill="#4d4d4d" textLength="49.22" lengthAdjust="spacingAndGlyphs" >160</text>
<line x1="1014.6" x2="1019.6" y1="1482.57" y2="1482.57" stroke="#4d4d4d" stroke-width="1.5"/>
<text x="964.42" y="1493.15" font-size="30.68" fill="#4d4d4d" textLength="49.22" lengthAdjust="spacingAndGlyphs" >180</text>
<line x1="1014.6" x2="1019.6" y1="1434.70" y2="1434.70" stroke="#4d4d4d" stroke-width="1.5"/>
<text x="964.41" y="1445.28" font-size="30.68" fill="#4d4d4d" textLength="49.22" lengthAdjust="spacingAndGlyphs" >200</text>
<line x1="1020.0" x2="1020.0" y1="1937.1" y2="1942.1" stroke="#4d4d4d" stroke-width="1.5"/>
<text x="1011.78" y="1966.20" font-size="30.68" fill="#4d4d4d" textLength="16.41" lengthAdjust="spacingAndGlyphs" >0</text>
<line x1="1100.5" x2="1100.5" y1="1937.1" y2="1942.1" stroke="#4d4d4d" stroke-width="1.5"/>
<text x="1092.26" y="1966.20" font-size="30.68" fill="#4d4d4d" textLength="16.41" lengthAdjust="spacingAndGlyphs" >5</text>
<line x1="1180.9" x2="1180.9" y1="1937.1" y2="1942.1" stroke="#4d4d4d" stroke-width="1.5"/>
<text x="1163.94" y="1966.20" font-size="30.68" fill="#4d4d4d" textLength="32.81" lengthAdjust="spacingAndGlyphs" >10</text>
<line x1="1261.3" x2="1261.3" y1="1937.1" y2="1942.1" stroke="#4d4d4d" stroke-width="1.5"/>
<text x="1244.43" y="1966.20" font-size="30.68" fill="#4d4d4d" textLength="32.81" lengthAdjust="spacingAndGlyphs" >15</text>
<line x1="1341.8" x2="1341.8" y1="1937.1" y2="1942.1" stroke="#4d4d4d" stroke-width="1.5"/>
<text x="1325.22" y="1966.20" font-size="30.68" fill="#4d4d4d" textLength="32.81" lengthAdjust="spacingAndGlyphs" >20</text>
<text x="1092.51" y="2004.40" font-size="40.56" fill="#000" textLength="196.00" lengthAdjust="spacingAndGlyphs" >Time (Sec)</text>
<text x="1017.42" y="1393.80" font-size="44.72" font-weight="bold" fill="#000" textLength="353.63" lengthAdjust="spacingAndGlyphs" >Recovery profile</text>
<g transform="translate(946.60,1781.50) rotate(-90)"><text x="-0.08" y="0" font-size="41.6" fill="#000" textLength="217.03" lengthAdjust="spacingAndGlyphs">Area (um^2)</text></g>
<text x="1380.18" y="1648.40" font-size="40.56" fill="#000" textLength="152.90" lengthAdjust="spacingAndGlyphs" >Location</text>
<text x="1422.59" y="1698.00" font-size="31.72" fill="#000" textLength="82.60" lengthAdjust="spacingAndGlyphs" >Basal</text>
<text x="1422.65" y="1727.90" font-size="31.72" fill="#000" textLength="143.69" lengthAdjust="spacingAndGlyphs" >Peripodial</text>
<line x1="1384" x2="1402.4" y1="1687" y2="1687" stroke="#d5277b" stroke-width="1.6"/>
<line x1="1384" x2="1402.4" y1="1717.4" y2="1717.4" stroke="#3f97c6" stroke-width="1.6"/>
<rect x="1758.7" y="1398.7" width="569.8999999999999" height="525.8" fill="#fff"/>
<line x1="1758.7" x2="2328.6" y1="1877.06" y2="1877.06" stroke="#f3f3f3" stroke-width="1.0"/>
<line x1="1758.7" x2="2328.6" y1="1829.16" y2="1829.16" stroke="#f3f3f3" stroke-width="1.0"/>
<line x1="1758.7" x2="2328.6" y1="1781.28" y2="1781.28" stroke="#f3f3f3" stroke-width="1.0"/>
<line x1="1758.7" x2="2328.6" y1="1733.38" y2="1733.38" stroke="#f3f3f3" stroke-width="1.0"/>
<line x1="1758.7" x2="2328.6" y1="1685.49" y2="1685.49" stroke="#f3f3f3" stroke-width="1.0"/>
<line x1="1758.7" x2="2328.6" y1="1637.61" y2="1637.61" stroke="#f3f3f3" stroke-width="1.0"/>
<line x1="1758.7" x2="2328.6" y1="1589.71" y2="1589.71" stroke="#f3f3f3" stroke-width="1.0"/>
<line x1="1758.7" x2="2328.6" y1="1541.82" y2="1541.82" stroke="#f3f3f3" stroke-width="1.0"/>
<line x1="1758.7" x2="2328.6" y1="1493.93" y2="1493.93" stroke="#f3f3f3" stroke-width="1.0"/>
<line x1="1758.7" x2="2328.6" y1="1446.04" y2="1446.04" stroke="#f3f3f3" stroke-width="1.0"/>
<line x1="1758.7" x2="2328.6" y1="1901.00" y2="1901.00" stroke="#ececec" stroke-width="1.8"/>
<line x1="1758.7" x2="2328.6" y1="1853.11" y2="1853.11" stroke="#ececec" stroke-width="1.8"/>
<line x1="1758.7" x2="2328.6" y1="1805.22" y2="1805.22" stroke="#ececec" stroke-width="1.8"/>
<line x1="1758.7" x2="2328.6" y1="1757.33" y2="1757.33" stroke="#ececec" stroke-width="1.8"/>
<line x1="1758.7" x2="2328.6" y1="1709.44" y2="1709.44" stroke="#ececec" stroke-width="1.8"/>
<line x1="1758.7" x2="2328.6" y1="1661.55" y2="1661.55" stroke="#ececec" stroke-width="1.8"/>
<line x1="1758.7" x2="2328.6" y1="1613.66" y2="1613.66" stroke="#ececec" stroke-width="1.8"/>
<line x1="1758.7" x2="2328.6" y1="1565.77" y2="1565.77" stroke="#ececec" stroke-width="1.8"/>
<line x1="1758.7" x2="2328.6" y1="1517.88" y2="1517.88" stroke="#ececec" stroke-width="1.8"/>
<line x1="1758.7" x2="2328.6" y1="1469.99" y2="1469.99" stroke="#ececec" stroke-width="1.8"/>
<line x1="1758.7" x2="2328.6" y1="1422.10" y2="1422.10" stroke="#ececec" stroke-width="1.8"/>
<line y1="1398.7" y2="1924.5" x1="1913.70" x2="1913.70" stroke="#ececec" stroke-width="1.6"/>
<line y1="1398.7" y2="1924.5" x1="2173.20" x2="2173.20" stroke="#ececec" stroke-width="1.6"/>
<line x1="1913.7" x2="1913.7" y1="1535.6" y2="1674.4" stroke="#1c355e" stroke-width="2.6"/>
<line x1="1913.7" x2="1913.7" y1="1777.6" y2="1842.0" stroke="#1c355e" stroke-width="2.6"/>
<rect x="1816.4" y="1674.4" width="195.5" height="103.2" fill="#74a8d3" stroke="#1c355e" stroke-width="2.6"/>
<line x1="1816.4" x2="2011.9" y1="1731.2" y2="1731.2" stroke="#1c355e" stroke-width="5.5"/>
<line x1="2173.2" x2="2173.2" y1="1650.5" y2="1679.8" stroke="#1c355e" stroke-width="2.6"/>
<line x1="2173.2" x2="2173.2" y1="1735.7" y2="1808.2" stroke="#1c355e" stroke-width="2.6"/>
<rect x="2076.3" y="1679.8" width="195.1" height="55.9" fill="#74a8d3" stroke="#1c355e" stroke-width="2.6"/>
<line x1="2076.3" x2="2271.4" y1="1719.0" y2="1719.0" stroke="#1c355e" stroke-width="5.5"/>
<circle cx="1892.0" cy="1462.8" r="3.3" fill="#000"/><circle cx="1914.2" cy="1462.8" r="3.3" fill="#6b6d8c"/><circle cx="1900.5" cy="1470.1" r="3.3" fill="#000"/><circle cx="1914.2" cy="1470.1" r="3.3" fill="#6b6d8c"/><circle cx="1914.2" cy="1494.6" r="3.3" fill="#6b6d8c"/><circle cx="1933.2" cy="1494.6" r="3.3" fill="#000"/><circle cx="1867.1" cy="1505.2" r="3.3" fill="#000"/><circle cx="1914.2" cy="1505.2" r="3.3" fill="#6b6d8c"/><circle cx="1885.0" cy="1535.8" r="3.3" fill="#000"/><circle cx="1962.2" cy="1537.2" r="3.3" fill="#000"/><circle cx="1918.9" cy="1544.8" r="3.3" fill="#000"/><circle cx="1868.3" cy="1553.5" r="3.3" fill="#000"/><circle cx="1962.0" cy="1554.4" r="3.3" fill="#000"/><circle cx="1877.5" cy="1589.5" r="3.3" fill="#000"/><circle cx="1889.7" cy="1607.1" r="3.3" fill="#000"/><circle cx="1926.7" cy="1606.7" r="3.3" fill="#000"/><circle cx="1885.9" cy="1619.6" r="3.3" fill="#000"/><circle cx="1910.9" cy="1618.0" r="3.3" fill="#000"/><circle cx="1964.8" cy="1639.9" r="3.3" fill="#000"/><circle cx="1903.1" cy="1643.9" r="3.3" fill="#000"/><circle cx="1960.8" cy="1653.5" r="3.3" fill="#000"/><circle cx="1937.7" cy="1654.9" r="3.3" fill="#000"/><circle cx="1932.3" cy="1657.1" r="3.3" fill="#000"/><circle cx="1961.0" cy="1658.9" r="3.3" fill="#000"/><circle cx="1885.0" cy="1660.6" r="3.3" fill="#000"/><circle cx="1950.0" cy="1660.6" r="3.3" fill="#000"/><circle cx="1954.7" cy="1668.4" r="3.3" fill="#000"/><circle cx="1873.0" cy="1674.0" r="3.3" fill="#000"/><circle cx="1891.3" cy="1674.0" r="3.3" fill="#000"/><circle cx="1951.8" cy="1674.0" r="3.3" fill="#000"/><circle cx="1942.9" cy="1678.5" r="3.3" fill="#000"/><circle cx="1867.1" cy="1681.1" r="3.3" fill="#000"/><circle cx="1889.2" cy="1682.5" r="3.3" fill="#000"/><circle cx="1929.7" cy="1681.1" r="3.3" fill="#000"/><circle cx="1939.1" cy="1682.5" r="3.3" fill="#000"/><circle cx="1876.3" cy="1687.2" r="3.3" fill="#000"/><circle cx="1870.4" cy="1695.9" r="3.3" fill="#000"/><circle cx="1882.9" cy="1695.9" r="3.3" fill="#000"/><circle cx="1886.6" cy="1695.9" r="3.3" fill="#000"/><circle cx="1890.9" cy="1695.9" r="3.3" fill="#000"/><circle cx="1959.4" cy="1695.9" r="3.3" fill="#000"/><circle cx="1966.0" cy="1695.9" r="3.3" fill="#000"/><circle cx="1900.1" cy="1698.0" r="3.3" fill="#000"/><circle cx="1899.1" cy="1701.5" r="3.3" fill="#000"/><circle cx="1902.6" cy="1703.4" r="3.3" fill="#000"/><circle cx="1948.8" cy="1707.0" r="3.3" fill="#000"/><circle cx="1946.0" cy="1709.6" r="3.3" fill="#000"/><circle cx="1896.0" cy="1712.4" r="3.3" fill="#000"/><circle cx="1913.0" cy="1712.4" r="3.3" fill="#000"/><circle cx="1868.5" cy="1720.9" r="3.3" fill="#000"/><circle cx="1914.9" cy="1721.6" r="3.3" fill="#000"/><circle cx="1937.0" cy="1723.0" r="3.3" fill="#000"/><circle cx="1966.0" cy="1721.6" r="3.3" fill="#000"/><circle cx="1877.5" cy="1729.6" r="3.3" fill="#000"/><circle cx="1880.0" cy="1732.9" r="3.3" fill="#000"/><circle cx="1904.1" cy="1731.4" r="3.3" fill="#000"/><circle cx="1882.4" cy="1736.6" r="3.3" fill="#000"/><circle cx="1958.4" cy="1735.9" r="3.3" fill="#000"/><circle cx="1862.9" cy="1741.8" r="3.3" fill="#000"/><circle cx="1870.6" cy="1740.4" r="3.3" fill="#000"/><circle cx="1917.9" cy="1741.8" r="3.3" fill="#000"/><circle cx="1901.5" cy="1745.1" r="3.3" fill="#000"/><circle cx="1908.5" cy="1749.6" r="3.3" fill="#000"/><circle cx="1879.6" cy="1757.8" r="3.3" fill="#000"/><circle cx="1876.3" cy="1760.2" r="3.3" fill="#000"/><circle cx="1881.2" cy="1761.3" r="3.3" fill="#000"/><circle cx="1894.4" cy="1760.2" r="3.3" fill="#000"/><circle cx="1910.9" cy="1760.2" r="3.3" fill="#000"/><circle cx="1920.8" cy="1762.8" r="3.3" fill="#000"/><circle cx="1925.9" cy="1761.3" r="3.3" fill="#000"/><circle cx="1939.8" cy="1760.2" r="3.3" fill="#000"/><circle cx="1964.1" cy="1760.2" r="3.3" fill="#000"/><circle cx="1912.5" cy="1767.2" r="3.3" fill="#000"/><circle cx="1899.1" cy="1770.1" r="3.3" fill="#000"/><circle cx="1905.0" cy="1773.8" r="3.3" fill="#000"/><circle cx="1900.1" cy="1776.2" r="3.3" fill="#000"/><circle cx="1925.0" cy="1774.8" r="3.3" fill="#000"/><circle cx="1935.1" cy="1778.1" r="3.3" fill="#000"/><circle cx="1958.4" cy="1776.2" r="3.3" fill="#000"/><circle cx="1881.7" cy="1781.4" r="3.3" fill="#000"/><circle cx="1914.4" cy="1784.9" r="3.3" fill="#000"/><circle cx="1877.0" cy="1787.2" r="3.3" fill="#000"/><circle cx="1964.8" cy="1796.4" r="3.3" fill="#000"/><circle cx="1877.9" cy="1800.0" r="3.3" fill="#000"/><circle cx="1895.1" cy="1801.4" r="3.3" fill="#000"/><circle cx="1908.1" cy="1799.7" r="3.3" fill="#000"/><circle cx="1911.8" cy="1799.7" r="3.3" fill="#000"/><circle cx="1917.9" cy="1799.7" r="3.3" fill="#000"/><circle cx="1954.2" cy="1801.4" r="3.3" fill="#000"/><circle cx="1942.9" cy="1810.1" r="3.3" fill="#000"/><circle cx="1953.3" cy="1810.1" r="3.3" fill="#000"/><circle cx="1960.8" cy="1811.0" r="3.3" fill="#000"/><circle cx="1965.3" cy="1810.3" r="3.3" fill="#000"/><circle cx="1930.9" cy="1813.8" r="3.3" fill="#000"/><circle cx="1934.9" cy="1816.0" r="3.3" fill="#000"/><circle cx="1944.5" cy="1813.8" r="3.3" fill="#000"/><circle cx="1953.0" cy="1812.7" r="3.3" fill="#000"/><circle cx="1880.0" cy="1818.8" r="3.3" fill="#000"/><circle cx="1893.0" cy="1818.8" r="3.3" fill="#000"/><circle cx="1953.5" cy="1820.7" r="3.3" fill="#000"/><circle cx="1891.8" cy="1825.1" r="3.3" fill="#000"/><circle cx="1906.6" cy="1827.3" r="3.3" fill="#000"/><circle cx="1870.2" cy="1839.0" r="3.3" fill="#000"/><circle cx="1874.2" cy="1841.4" r="3.3" fill="#000"/><circle cx="1874.9" cy="1843.0" r="3.3" fill="#000"/>
<circle cx="2133.6" cy="1650.1" r="3.3" fill="#000"/><circle cx="2221.4" cy="1650.5" r="3.3" fill="#000"/><circle cx="2160.6" cy="1689.3" r="3.3" fill="#000"/><circle cx="2211.5" cy="1714.5" r="3.3" fill="#000"/><circle cx="2198.4" cy="1724.0" r="3.3" fill="#000"/><circle cx="2204.7" cy="1734.3" r="3.3" fill="#000"/><circle cx="2176.8" cy="1739.7" r="3.3" fill="#000"/><circle cx="2180.4" cy="1808.7" r="3.3" fill="#000"/>
<rect x="1758.7" y="1398.7" width="569.8999999999999" height="525.8" fill="none" stroke="#595959" stroke-width="1.45"/>
<line x1="1753.7" x2="1758.7" y1="1901.00" y2="1901.00" stroke="#4d4d4d" stroke-width="1.5"/>
<text x="1736.22" y="1911.58" font-size="30.68" fill="#4d4d4d" textLength="16.41" lengthAdjust="spacingAndGlyphs" >0</text>
<line x1="1753.7" x2="1758.7" y1="1853.11" y2="1853.11" stroke="#4d4d4d" stroke-width="1.5"/>
<text x="1736.51" y="1863.69" font-size="30.68" fill="#4d4d4d" textLength="16.41" lengthAdjust="spacingAndGlyphs" >1</text>
<line x1="1753.7" x2="1758.7" y1="1805.22" y2="1805.22" stroke="#4d4d4d" stroke-width="1.5"/>
<text x="1736.57" y="1815.80" font-size="30.68" fill="#4d4d4d" textLength="16.41" lengthAdjust="spacingAndGlyphs" >2</text>
<line x1="1753.7" x2="1758.7" y1="1757.33" y2="1757.33" stroke="#4d4d4d" stroke-width="1.5"/>
<text x="1736.37" y="1767.91" font-size="30.68" fill="#4d4d4d" textLength="16.41" lengthAdjust="spacingAndGlyphs" >3</text>
<line x1="1753.7" x2="1758.7" y1="1709.44" y2="1709.44" stroke="#4d4d4d" stroke-width="1.5"/>
<text x="1735.95" y="1720.02" font-size="30.68" fill="#4d4d4d" textLength="16.41" lengthAdjust="spacingAndGlyphs" >4</text>
<line x1="1753.7" x2="1758.7" y1="1661.55" y2="1661.55" stroke="#4d4d4d" stroke-width="1.5"/>
<text x="1736.31" y="1672.13" font-size="30.68" fill="#4d4d4d" textLength="16.41" lengthAdjust="spacingAndGlyphs" >5</text>
<line x1="1753.7" x2="1758.7" y1="1613.66" y2="1613.66" stroke="#4d4d4d" stroke-width="1.5"/>
<text x="1736.37" y="1624.24" font-size="30.68" fill="#4d4d4d" textLength="16.41" lengthAdjust="spacingAndGlyphs" >6</text>
<line x1="1753.7" x2="1758.7" y1="1565.77" y2="1565.77" stroke="#4d4d4d" stroke-width="1.5"/>
<text x="1736.57" y="1576.35" font-size="30.68" fill="#4d4d4d" textLength="16.41" lengthAdjust="spacingAndGlyphs" >7</text>
<line x1="1753.7" x2="1758.7" y1="1517.88" y2="1517.88" stroke="#4d4d4d" stroke-width="1.5"/>
<text x="1736.37" y="1528.46" font-size="30.68" fill="#4d4d4d" textLength="16.41" lengthAdjust="spacingAndGlyphs" >8</text>
<line x1="1753.7" x2="1758.7" y1="1469.99" y2="1469.99" stroke="#4d4d4d" stroke-width="1.5"/>
<text x="1736.48" y="1480.57" font-size="30.68" fill="#4d4d4d" textLength="16.41" lengthAdjust="spacingAndGlyphs" >9</text>
<line x1="1753.7" x2="1758.7" y1="1422.10" y2="1422.10" stroke="#4d4d4d" stroke-width="1.5"/>
<text x="1719.82" y="1432.68" font-size="30.68" fill="#4d4d4d" textLength="32.81" lengthAdjust="spacingAndGlyphs" >10</text>
<line x1="1913.7" x2="1913.7" y1="1924.5" y2="1929.5" stroke="#4d4d4d" stroke-width="1.5"/>
<line x1="2173.2" x2="2173.2" y1="1924.5" y2="1929.5" stroke="#4d4d4d" stroke-width="1.5"/>
<text x="1872.70" y="1954.20" font-size="31.2" fill="#4d4d4d" textLength="82.50" lengthAdjust="spacingAndGlyphs" >Basal</text>
<text x="2102.05" y="1954.20" font-size="31.2" fill="#4d4d4d" textLength="143.59" lengthAdjust="spacingAndGlyphs" >Peripodial</text>
<text x="1925.22" y="1993.00" font-size="40.56" fill="#000" textLength="235.64" lengthAdjust="spacingAndGlyphs" >Region of cut</text>
<text x="1758.65" y="1381.10" font-size="45.24" font-weight="bold" fill="#000" textLength="502.87" lengthAdjust="spacingAndGlyphs" >Columnar vs Peripodial</text>
<g transform="translate(1705.00,1975.80) rotate(-90)"><text x="-3.28" y="0" font-size="41.6" fill="#000" textLength="635.16" lengthAdjust="spacingAndGlyphs">Response perpendicular to cut (um)</text></g>
</svg>
</body></html>
